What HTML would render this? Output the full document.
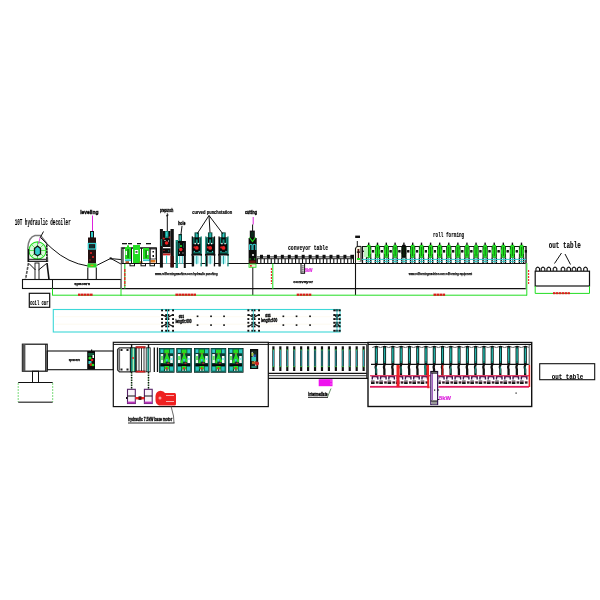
<!DOCTYPE html>
<html><head><meta charset="utf-8"><style>
html,body{margin:0;padding:0;background:#fff;}
svg{display:block;filter:blur(0.3px);}
text{font-family:"Liberation Sans",sans-serif;}
</style></head><body>
<svg width="600" height="600" viewBox="0 0 600 600">
<rect width="600" height="600" fill="#fff"/>
<text x="14.7" y="224.8" font-size="8.3" fill="#000" textLength="56" lengthAdjust="spacingAndGlyphs" font-weight="bold" stroke="#000" stroke-width="0.1" style="font-family:Liberation Mono,monospace">10T hydraulic decoiler</text>
<path d="M27.8,262 L27.8,248 Q28.5,237 35,235.4 L40.5,235.4 L46.5,243 L47.6,262" stroke="#7a7a7a" stroke-width="1.5" fill="none" />
<circle cx="37.5" cy="250.5" r="8.6" fill="#d8f8d8" stroke="#22dd22" stroke-width="1.1"/>
<line x1="29" y1="250.5" x2="46" y2="250.5" stroke="#22dd22" stroke-width="0.7" />
<line x1="37.5" y1="242" x2="37.5" y2="259" stroke="#22dd22" stroke-width="0.7" />
<line x1="31.5" y1="244.5" x2="43.5" y2="256.5" stroke="#22dd22" stroke-width="0.7" />
<line x1="43.5" y1="244.5" x2="31.5" y2="256.5" stroke="#22dd22" stroke-width="0.7" />
<path d="M37.5,246 L40.5,248.5 L40.5,254 L37.5,255.8 L34.5,254 L34.5,248.5 Z" stroke="#111" stroke-width="1.3" fill="#33cccc" />
<line x1="28.6" y1="249" x2="28.6" y2="262" stroke="#111" stroke-width="1.2" />
<line x1="46.8" y1="245" x2="46.8" y2="262" stroke="#111" stroke-width="1.2" stroke-dasharray="2,1"/>
<line x1="28" y1="259.3" x2="47.5" y2="259.3" stroke="#111" stroke-width="1" />
<line x1="28" y1="261.3" x2="47.5" y2="261.3" stroke="#111" stroke-width="1.2" />
<line x1="43.5" y1="231.5" x2="40" y2="238" stroke="#111" stroke-width="1" />
<line x1="40" y1="238" x2="38.5" y2="244" stroke="#dd22dd" stroke-width="0.8" />
<line x1="28.5" y1="263" x2="25.5" y2="279.5" stroke="#555" stroke-width="1.6" stroke-dasharray="3,1"/>
<line x1="47" y1="263" x2="49" y2="279.5" stroke="#111" stroke-width="1.6" />
<rect x="35" y="263" width="4" height="16.5" fill="none" stroke="#111" stroke-width="0.9" />
<line x1="29" y1="263.5" x2="35.5" y2="270" stroke="#111" stroke-width="1" />
<line x1="46.5" y1="263.5" x2="38.5" y2="270" stroke="#111" stroke-width="1" />
<path d="M41,238 Q47,244 52,248.5 Q68,263 88,266" stroke="#111" stroke-width="1" fill="none" />
<path d="M96.5,265.5 L110.7,258.4 L121.5,264.3" stroke="#111" stroke-width="1" fill="none" />
<line x1="110.7" y1="258.6" x2="121.5" y2="259.6" stroke="#111" stroke-width="1" />
<rect x="109.7" y="257.4" width="2" height="2" fill="#111" />
<rect x="22.5" y="279.5" width="98.5" height="9" fill="none" stroke="#111" stroke-width="1.1" />
<line x1="52.5" y1="279.5" x2="52.5" y2="288.5" stroke="#111" stroke-width="1" />
<text x="74.2" y="285.3" font-size="3.6" fill="#000" textLength="15.8" lengthAdjust="spacingAndGlyphs" font-weight="bold" stroke="#000" stroke-width="0.25" >spacers</text>
<rect x="29.3" y="293.3" width="20.4" height="14" fill="none" stroke="#111" stroke-width="1.2" />
<text x="30" y="305" font-size="7.8" fill="#000" textLength="18.5" lengthAdjust="spacingAndGlyphs" font-weight="bold" stroke="#000" stroke-width="0.1" style="font-family:Liberation Mono,monospace">coil car</text>
<text x="80.2" y="213.6" font-size="6" fill="#000" textLength="18.3" lengthAdjust="spacingAndGlyphs" font-weight="bold" stroke="#000" stroke-width="0.35" >leveling</text>
<line x1="92.5" y1="215.5" x2="92.5" y2="231" stroke="#dd22dd" stroke-width="1" />
<rect x="90" y="231" width="4" height="7" fill="#111" />
<rect x="91" y="232" width="2" height="5.5" fill="#33cccc" />
<rect x="88" y="237.5" width="8" height="26" fill="#241010" />
<rect x="88.3" y="243.5" width="7.4" height="5.5" fill="none" stroke="#33cccc" stroke-width="1.3" />
<rect x="90" y="245" width="4" height="3" fill="#0a3030" />
<circle cx="91" cy="253" r="1" fill="#ee2222" stroke="none" stroke-width="1"/>
<circle cx="93" cy="257" r="1" fill="#ee2222" stroke="none" stroke-width="1"/>
<circle cx="90" cy="260" r="0.8" fill="#aa3333" stroke="none" stroke-width="1"/>
<rect x="87.5" y="263.5" width="9" height="4" fill="#22dd22" />
<rect x="90.5" y="264.7" width="3" height="1.5" fill="#e09020" />
<line x1="87.8" y1="267.5" x2="87.8" y2="279.5" stroke="#111" stroke-width="1.1" />
<line x1="96.3" y1="267.5" x2="96.3" y2="279.5" stroke="#111" stroke-width="1.1" />
<line x1="121" y1="263.5" x2="526" y2="263.5" stroke="#111" stroke-width="1.2" />
<line x1="121" y1="288.6" x2="526" y2="288.6" stroke="#111" stroke-width="1.2" />
<line x1="121.3" y1="247" x2="121.3" y2="289" stroke="#777" stroke-width="1.1" />
<line x1="252.8" y1="263" x2="252.8" y2="295" stroke="#111" stroke-width="1" />
<line x1="355.5" y1="248" x2="355.5" y2="295" stroke="#111" stroke-width="1.1" />
<line x1="357.3" y1="241" x2="357.3" y2="247" stroke="#111" stroke-width="1" />
<line x1="526" y1="246" x2="526" y2="289" stroke="#888" stroke-width="1.1" />
<line x1="526" y1="246" x2="526" y2="263" stroke="#111" stroke-width="1.2" />
<line x1="52.5" y1="295.2" x2="527" y2="295.2" stroke="#22dd22" stroke-width="1" />
<line x1="52.5" y1="288.5" x2="52.5" y2="295.5" stroke="#22dd22" stroke-width="1" />
<line x1="121" y1="288.5" x2="121" y2="296" stroke="#22dd22" stroke-width="1" />
<line x1="272.8" y1="263.5" x2="272.8" y2="289" stroke="#22dd22" stroke-width="1" />
<line x1="526.8" y1="263" x2="526.8" y2="295.5" stroke="#22dd22" stroke-width="1" />
<line x1="124.8" y1="263.5" x2="124.8" y2="288.5" stroke="#3c3" stroke-width="1.2" />
<line x1="124.8" y1="269" x2="124.8" y2="286" stroke="#ee2222" stroke-width="1.3" stroke-dasharray="3,1"/>
<line x1="271.4" y1="268" x2="271.4" y2="284" stroke="#ee2222" stroke-width="1.1" stroke-dasharray="2,1"/>
<line x1="528.6" y1="270" x2="528.6" y2="284" stroke="#ee2222" stroke-width="1.1" stroke-dasharray="2,1"/>
<rect x="78" y="293.6" width="2.6" height="2.2" fill="#dd1a1a" />
<rect x="81" y="293.6" width="2.6" height="2.2" fill="#dd1a1a" />
<rect x="84" y="293.6" width="2.6" height="2.2" fill="#dd1a1a" />
<rect x="87" y="293.6" width="2.6" height="2.2" fill="#dd1a1a" />
<rect x="90" y="293.6" width="2.6" height="2.2" fill="#dd1a1a" />
<rect x="175.4" y="293.6" width="2.6" height="2.2" fill="#dd1a1a" />
<rect x="178.4" y="293.6" width="2.6" height="2.2" fill="#dd1a1a" />
<rect x="181.4" y="293.6" width="2.6" height="2.2" fill="#dd1a1a" />
<rect x="184.4" y="293.6" width="2.6" height="2.2" fill="#dd1a1a" />
<rect x="187.4" y="293.6" width="2.6" height="2.2" fill="#dd1a1a" />
<rect x="190.4" y="293.6" width="2.6" height="2.2" fill="#dd1a1a" />
<rect x="193.4" y="293.6" width="2.6" height="2.2" fill="#dd1a1a" />
<rect x="296.7" y="293.6" width="2.6" height="2.2" fill="#dd1a1a" />
<rect x="299.7" y="293.6" width="2.6" height="2.2" fill="#dd1a1a" />
<rect x="302.7" y="293.6" width="2.6" height="2.2" fill="#dd1a1a" />
<rect x="305.7" y="293.6" width="2.6" height="2.2" fill="#dd1a1a" />
<rect x="308.7" y="293.6" width="2.6" height="2.2" fill="#dd1a1a" />
<rect x="433.5" y="293.6" width="2.6" height="2.2" fill="#dd1a1a" />
<rect x="436.5" y="293.6" width="2.6" height="2.2" fill="#dd1a1a" />
<rect x="439.5" y="293.6" width="2.6" height="2.2" fill="#dd1a1a" />
<rect x="442.5" y="293.6" width="2.6" height="2.2" fill="#dd1a1a" />
<line x1="122" y1="248" x2="156.5" y2="248" stroke="#111" stroke-width="1" />
<rect x="122" y="248" width="34.5" height="15.5" fill="none" stroke="#111" stroke-width="1" />
<line x1="123.2" y1="248" x2="123.2" y2="263" stroke="#111" stroke-width="0.8" />
<rect x="125" y="247" width="6" height="12" fill="#22dd22" />
<rect x="127" y="245.3" width="2" height="2" fill="#22dd22" />
<rect x="127.6" y="249" width="0.9" height="9" fill="#0a3a0a" />
<rect x="125.6" y="251" width="1.4" height="4" fill="#fff" />
<rect x="125" y="259.3" width="7" height="1.8" fill="#33cccc" />
<rect x="133" y="245" width="7" height="18" fill="#22dd22" />
<rect x="134.8" y="250" width="3.4" height="4" fill="#fff" />
<rect x="135.5" y="251.3" width="2" height="1.3" fill="#111" />
<rect x="143" y="248" width="6" height="11" fill="#22dd22" />
<rect x="145.6" y="250" width="0.9" height="8" fill="#0a3a0a" />
<rect x="147" y="251" width="1.4" height="4" fill="#fff" />
<rect x="143" y="259.3" width="7" height="1.8" fill="#33cccc" />
<rect x="150" y="249" width="6" height="10" fill="#fff" stroke="#111" stroke-width="0.8" />
<rect x="152.5" y="251" width="1.5" height="1.5" fill="#111" />
<rect x="152.5" y="255" width="1.5" height="2" fill="#111" />
<rect x="150.5" y="260" width="5" height="2.5" fill="#dd7722" />
<rect x="125.5" y="261.2" width="3.5" height="2" fill="#aa5522" />
<rect x="139.5" y="261.2" width="3" height="2" fill="#aa7722" />
<rect x="122" y="243" width="5" height="1.3" fill="#111" />
<rect x="128" y="243" width="4" height="1.3" fill="#111" />
<rect x="137" y="243" width="4" height="1.3" fill="#111" />
<rect x="146" y="243" width="5" height="1.3" fill="#111" />
<rect x="130" y="263.5" width="4.5" height="2.3" fill="#fff" stroke="#111" stroke-width="1" />
<rect x="141" y="263.5" width="4.5" height="2.3" fill="#fff" stroke="#111" stroke-width="1" />
<rect x="150" y="263.5" width="4.5" height="2.3" fill="#fff" stroke="#111" stroke-width="1" />
<line x1="131.5" y1="248" x2="131.5" y2="263" stroke="#111" stroke-width="1" />
<line x1="141.5" y1="248" x2="141.5" y2="263" stroke="#111" stroke-width="1" />
<line x1="150" y1="248" x2="150" y2="263" stroke="#111" stroke-width="1" />
<rect x="159.9" y="229" width="3" height="38.6" fill="#111" />
<rect x="170.5" y="229" width="3.3" height="38.6" fill="#111" />
<rect x="160.8" y="239" width="1.2" height="7" fill="#118877" />
<rect x="162.9" y="231" width="7.6" height="22.5" fill="#0d0d0d" />
<rect x="165" y="231" width="3.5" height="7" fill="#118877" />
<rect x="165.8" y="232" width="1.8" height="4.5" fill="#33cccc" />
<circle cx="166.6" cy="243" r="1.8" fill="#ee2222" stroke="none" stroke-width="1"/>
<circle cx="163.8" cy="238.5" r="1.1" fill="#cc2222" stroke="none" stroke-width="1"/>
<circle cx="169.5" cy="237.5" r="1" fill="#aa2020" stroke="none" stroke-width="1"/>
<rect x="164.5" y="240" width="1" height="1" fill="#fff" />
<rect x="168" y="240.5" width="1" height="1" fill="#fff" />
<rect x="163" y="247" width="7.5" height="1.3" fill="#fff" />
<rect x="163.5" y="250" width="1" height="1" fill="#cc2020" />
<rect x="168" y="250.5" width="1.2" height="1" fill="#2a9" />
<rect x="162.9" y="253.6" width="7.6" height="2" fill="#cc2020" />
<rect x="163" y="255.6" width="7.5" height="8" fill="#fff" />
<rect x="166" y="255.6" width="1.1" height="8" fill="#33cccc" />
<rect x="170.5" y="256" width="3.3" height="11" fill="#3a0a0a" />
<line x1="167.3" y1="213.3" x2="167.3" y2="231" stroke="#111" stroke-width="1" />
<line x1="166" y1="216" x2="168.5" y2="215" stroke="#111" stroke-width="1" />
<rect x="175.6" y="240" width="2.4" height="28" fill="#118877" />
<rect x="176.4" y="242" width="0.8" height="20" fill="#0a4a40" />
<rect x="178.5" y="234" width="3.5" height="8" fill="#0a2a25" />
<rect x="179.2" y="235" width="2" height="6" fill="#118877" />
<rect x="179.8" y="236" width="0.8" height="4" fill="#33cccc" />
<rect x="178" y="241" width="7.6" height="15" fill="#080808" />
<rect x="178.6" y="243" width="1" height="6" fill="#118877" />
<rect x="183.4" y="243" width="1" height="5" fill="#118877" />
<circle cx="181" cy="246" r="1.1" fill="#22dd22" stroke="none" stroke-width="1"/>
<circle cx="180.8" cy="249.5" r="1.7" fill="#ee2222" stroke="none" stroke-width="1"/>
<rect x="179" y="252.5" width="1" height="1" fill="#fff" />
<rect x="182.5" y="252.5" width="1" height="1" fill="#fff" />
<rect x="178" y="256" width="6" height="7.5" fill="#fff" />
<rect x="179.2" y="256" width="1" height="8" fill="#33cccc" />
<rect x="181.8" y="256" width="1" height="8" fill="#33cccc" />
<rect x="183.8" y="241" width="2" height="27" fill="#111" />
<line x1="182" y1="226" x2="181" y2="234" stroke="#111" stroke-width="1" />
<rect x="194.55" y="232.4" width="4.4" height="7" fill="#0a3a30" />
<rect x="195.35" y="232.9" width="2.8" height="6" fill="#118877" />
<rect x="196.25" y="233.4" width="1" height="5" fill="#33cccc" />
<rect x="192.3" y="237.4" width="8.9" height="17" fill="#080808" />
<rect x="191.7" y="236.4" width="1.3" height="30" fill="#111" />
<rect x="200.5" y="236.4" width="1.3" height="30" fill="#118877" />
<rect x="193.3" y="237.9" width="1.2" height="6" fill="#118877" />
<rect x="199" y="237.9" width="1.2" height="6" fill="#118877" />
<rect x="195.75" y="239.4" width="2" height="4" fill="#118877" />
<rect x="194.5" y="242.9" width="1.4" height="1.4" fill="#fff" />
<rect x="197.6" y="242.9" width="1.4" height="1.4" fill="#fff" />
<circle cx="196.75" cy="247.9" r="1.9" fill="#ee2222" stroke="none" stroke-width="1"/>
<circle cx="194.55" cy="247.4" r="1.1" fill="#cc2020" stroke="none" stroke-width="1"/>
<rect x="193.7" y="250.9" width="1.2" height="1.2" fill="#33cccc" />
<rect x="198.6" y="250.9" width="1.2" height="1.2" fill="#33cccc" />
<rect x="193.3" y="252.2" width="6.9" height="1.2" fill="#118877" />
<rect x="191.5" y="253.9" width="10.5" height="1.8" fill="#111" />
<rect x="193" y="255.7" width="7.5" height="8.3" fill="#fff" />
<rect x="194.3" y="256.2" width="4.9" height="7.5" fill="#b8f2f2" />
<rect x="196.25" y="255.7" width="1" height="8.5" fill="#2aa" />
<rect x="192.5" y="255.4" width="1.6" height="11" fill="#111" />
<rect x="207.95" y="232.4" width="4.4" height="7" fill="#0a3a30" />
<rect x="208.75" y="232.9" width="2.8" height="6" fill="#118877" />
<rect x="209.65" y="233.4" width="1" height="5" fill="#33cccc" />
<rect x="205.8" y="237.4" width="8.7" height="17" fill="#080808" />
<rect x="205.2" y="236.4" width="1.3" height="30" fill="#118877" />
<rect x="213.8" y="236.4" width="1.3" height="30" fill="#111" />
<rect x="206.8" y="237.9" width="1.2" height="6" fill="#118877" />
<rect x="212.3" y="237.9" width="1.2" height="6" fill="#118877" />
<rect x="209.15" y="239.4" width="2" height="4" fill="#118877" />
<rect x="208" y="242.9" width="1.4" height="1.4" fill="#fff" />
<rect x="210.9" y="242.9" width="1.4" height="1.4" fill="#fff" />
<circle cx="210.15" cy="247.9" r="1.9" fill="#ee2222" stroke="none" stroke-width="1"/>
<circle cx="207.95" cy="247.4" r="1.1" fill="#cc2020" stroke="none" stroke-width="1"/>
<rect x="207.2" y="250.9" width="1.2" height="1.2" fill="#33cccc" />
<rect x="211.9" y="250.9" width="1.2" height="1.2" fill="#33cccc" />
<rect x="206.8" y="252.2" width="6.7" height="1.2" fill="#118877" />
<rect x="205" y="253.9" width="10.3" height="1.8" fill="#111" />
<rect x="206.5" y="255.7" width="7.3" height="8.3" fill="#fff" />
<rect x="207.8" y="256.2" width="4.7" height="7.5" fill="#b8f2f2" />
<rect x="209.65" y="255.7" width="1" height="8.5" fill="#2aa" />
<rect x="206" y="255.4" width="1.6" height="11" fill="#111" />
<rect x="221.3" y="232.4" width="4.4" height="7" fill="#0a3a30" />
<rect x="222.1" y="232.9" width="2.8" height="6" fill="#118877" />
<rect x="223" y="233.4" width="1" height="5" fill="#33cccc" />
<rect x="219" y="237.4" width="9" height="17" fill="#080808" />
<rect x="218.4" y="236.4" width="1.3" height="30" fill="#111" />
<rect x="227.3" y="236.4" width="1.3" height="30" fill="#118877" />
<rect x="220" y="237.9" width="1.2" height="6" fill="#118877" />
<rect x="225.8" y="237.9" width="1.2" height="6" fill="#118877" />
<rect x="222.5" y="239.4" width="2" height="4" fill="#118877" />
<rect x="221.2" y="242.9" width="1.4" height="1.4" fill="#fff" />
<rect x="224.4" y="242.9" width="1.4" height="1.4" fill="#fff" />
<circle cx="223.5" cy="247.9" r="1.9" fill="#ee2222" stroke="none" stroke-width="1"/>
<circle cx="221.3" cy="247.4" r="1.1" fill="#cc2020" stroke="none" stroke-width="1"/>
<rect x="220.4" y="250.9" width="1.2" height="1.2" fill="#33cccc" />
<rect x="225.4" y="250.9" width="1.2" height="1.2" fill="#33cccc" />
<rect x="220" y="252.2" width="7" height="1.2" fill="#118877" />
<rect x="218.2" y="253.9" width="10.6" height="1.8" fill="#111" />
<rect x="219.7" y="255.7" width="7.6" height="8.3" fill="#fff" />
<rect x="221" y="256.2" width="5" height="7.5" fill="#b8f2f2" />
<rect x="223" y="255.7" width="1" height="8.5" fill="#2aa" />
<rect x="219.2" y="255.4" width="1.6" height="11" fill="#111" />
<text x="160" y="211.7" font-size="5" fill="#000" textLength="13.3" lengthAdjust="spacingAndGlyphs" font-weight="bold" stroke="#000" stroke-width="0.35" >prepunch</text>
<text x="178.3" y="224.7" font-size="4.8" fill="#000" textLength="7" lengthAdjust="spacingAndGlyphs" font-weight="bold" stroke="#000" stroke-width="0.35" >hole</text>
<text x="192.2" y="214" font-size="5.4" fill="#000" textLength="40" lengthAdjust="spacingAndGlyphs" font-weight="bold" stroke="#000" stroke-width="0.2" >curved punchstation</text>
<line x1="209" y1="215.5" x2="197" y2="234" stroke="#111" stroke-width="1" />
<line x1="209" y1="215.5" x2="210" y2="232.5" stroke="#111" stroke-width="1" />
<line x1="209" y1="215.5" x2="223" y2="234" stroke="#111" stroke-width="1" />
<text x="155" y="275" font-size="4.4" fill="#000" textLength="62.5" lengthAdjust="spacingAndGlyphs" font-weight="bold" stroke="#000" stroke-width="0.25" >www.rollformingmachine.com hydraulic punching</text>
<text x="245" y="214" font-size="5.2" fill="#000" textLength="12" lengthAdjust="spacingAndGlyphs" font-weight="bold" stroke="#000" stroke-width="0.35" >cutting</text>
<line x1="253.2" y1="217" x2="253.2" y2="224.5" stroke="#dd22dd" stroke-width="1" />
<line x1="252.6" y1="224.5" x2="252.6" y2="231" stroke="#111" stroke-width="1" />
<rect x="249.8" y="230.6" width="5" height="8" fill="#111" />
<rect x="250.8" y="232" width="3" height="5" fill="#0a2a1a" />
<rect x="248.6" y="238" width="8.1" height="25.5" fill="#0a0a0a" />
<path d="M249.5,237.5 L252.5,241.5 L255.5,237.5" stroke="#22dd22" stroke-width="1.2" fill="none" />
<path d="M249.6,250 L249.6,245 Q251,243.5 252,245 L252,250" stroke="#33cccc" stroke-width="1.1" fill="none" />
<path d="M253,250 L253,245 Q254.5,243.5 255.8,245 L255.8,250" stroke="#33cccc" stroke-width="1.1" fill="none" />
<rect x="252.2" y="254" width="1.6" height="2" fill="#eee" />
<rect x="249.5" y="258.5" width="1.2" height="1" fill="#22dd22" />
<rect x="254" y="258.5" width="1.2" height="1" fill="#22dd22" />
<rect x="249.5" y="260.5" width="6" height="3" fill="#6a1010" />
<rect x="249" y="264" width="7" height="3.3" fill="#f6e6d6" stroke="#22dd22" stroke-width="0.8" />
<rect x="250" y="265" width="1.8" height="1.6" fill="#ee2222" />
<text x="288" y="249.7" font-size="7" fill="#000" textLength="40" lengthAdjust="spacingAndGlyphs" font-weight="bold" stroke="#000" stroke-width="0.1" style="font-family:Liberation Mono,monospace">conveyor table</text>
<line x1="257" y1="256.9" x2="353.5" y2="256.9" stroke="#111" stroke-width="0.9" />
<line x1="257" y1="258.7" x2="353.5" y2="258.7" stroke="#111" stroke-width="0.9" />
<rect x="260" y="254.8" width="3" height="3.6" fill="#111" />
<rect x="266.95" y="254.8" width="3" height="3.6" fill="#111" />
<rect x="273.9" y="254.8" width="3" height="3.6" fill="#111" />
<rect x="280.85" y="254.8" width="3" height="3.6" fill="#111" />
<rect x="287.8" y="254.8" width="3" height="3.6" fill="#111" />
<rect x="294.75" y="254.8" width="3" height="3.6" fill="#111" />
<rect x="301.7" y="254.8" width="3" height="3.6" fill="#111" />
<rect x="308.65" y="254.8" width="3" height="3.6" fill="#111" />
<rect x="315.6" y="254.8" width="3" height="3.6" fill="#111" />
<rect x="322.55" y="254.8" width="3" height="3.6" fill="#111" />
<rect x="329.5" y="254.8" width="3" height="3.6" fill="#111" />
<rect x="336.45" y="254.8" width="3" height="3.6" fill="#111" />
<rect x="343.4" y="254.8" width="3" height="3.6" fill="#111" />
<rect x="350.35" y="254.8" width="3" height="3.6" fill="#111" />
<rect x="256.8" y="258.7" width="1.1" height="4.6" fill="#111" />
<rect x="260.28" y="258.7" width="1.1" height="4.6" fill="#111" />
<rect x="263.75" y="258.7" width="1.1" height="4.6" fill="#111" />
<rect x="267.23" y="258.7" width="1.1" height="4.6" fill="#111" />
<rect x="270.7" y="258.7" width="1.1" height="4.6" fill="#111" />
<rect x="274.18" y="258.7" width="1.1" height="4.6" fill="#111" />
<rect x="277.65" y="258.7" width="1.1" height="4.6" fill="#111" />
<rect x="281.12" y="258.7" width="1.1" height="4.6" fill="#111" />
<rect x="284.6" y="258.7" width="1.1" height="4.6" fill="#111" />
<rect x="288.07" y="258.7" width="1.1" height="4.6" fill="#111" />
<rect x="291.55" y="258.7" width="1.1" height="4.6" fill="#111" />
<rect x="295.03" y="258.7" width="1.1" height="4.6" fill="#111" />
<rect x="298.5" y="258.7" width="1.1" height="4.6" fill="#111" />
<rect x="301.98" y="258.7" width="1.1" height="4.6" fill="#111" />
<rect x="305.45" y="258.7" width="1.1" height="4.6" fill="#111" />
<rect x="308.93" y="258.7" width="1.1" height="4.6" fill="#111" />
<rect x="312.4" y="258.7" width="1.1" height="4.6" fill="#111" />
<rect x="315.88" y="258.7" width="1.1" height="4.6" fill="#111" />
<rect x="319.35" y="258.7" width="1.1" height="4.6" fill="#111" />
<rect x="322.83" y="258.7" width="1.1" height="4.6" fill="#111" />
<rect x="326.3" y="258.7" width="1.1" height="4.6" fill="#111" />
<rect x="329.78" y="258.7" width="1.1" height="4.6" fill="#111" />
<rect x="333.25" y="258.7" width="1.1" height="4.6" fill="#111" />
<rect x="336.73" y="258.7" width="1.1" height="4.6" fill="#111" />
<rect x="340.2" y="258.7" width="1.1" height="4.6" fill="#111" />
<rect x="343.68" y="258.7" width="1.1" height="4.6" fill="#111" />
<rect x="347.15" y="258.7" width="1.1" height="4.6" fill="#111" />
<rect x="350.62" y="258.7" width="1.1" height="4.6" fill="#111" />
<rect x="353" y="254.8" width="1" height="8.5" fill="#111" />
<text x="293.3" y="282.8" font-size="4" fill="#000" textLength="19.7" lengthAdjust="spacingAndGlyphs" font-weight="bold" stroke="#000" stroke-width="0.25" >conveyor</text>
<rect x="301" y="263.5" width="3.6" height="9.8" fill="#fff" stroke="#111" stroke-width="1" />
<rect x="301.8" y="265.5" width="2" height="0.8" fill="#111" />
<rect x="301.8" y="267.5" width="2" height="0.8" fill="#111" />
<rect x="301.8" y="269.5" width="2" height="0.8" fill="#111" />
<rect x="301.8" y="271.5" width="2" height="0.8" fill="#111" />
<text x="305" y="272.2" font-size="5.5" fill="#dd22dd" textLength="7.5" lengthAdjust="spacingAndGlyphs" font-weight="bold" stroke="#dd22dd" stroke-width="0.2" >5kW</text>
<rect x="355.2" y="235.6" width="4.8" height="2.4" fill="#111" />
<text x="433" y="237" font-size="7.4" fill="#000" textLength="31.2" lengthAdjust="spacingAndGlyphs" font-weight="bold" stroke="#000" stroke-width="0.1" style="font-family:Liberation Mono,monospace">roll forming</text>
<line x1="362" y1="246.5" x2="526" y2="246.5" stroke="#111" stroke-width="1.2" />
<path d="M355.5,263 L355.5,249 Q355.5,246.4 358,246.4 L361,246.4 L361,261.5 Z" stroke="#111" stroke-width="1" fill="#f8f4e0" />
<rect x="357.5" y="249" width="1.8" height="4" fill="#551111" />
<rect x="356.8" y="251.5" width="3.2" height="1.2" fill="#111" />
<rect x="357.8" y="253" width="1.2" height="5" fill="#551111" />
<rect x="357" y="258" width="3" height="2" fill="#22dd22" />
<rect x="361.8" y="246" width="1.3" height="17" fill="#111" />
<rect x="356" y="261.5" width="5" height="1.5" fill="#fff" />
<rect x="366.1" y="246.5" width="5.2" height="11" fill="#0a2a0a" />
<rect x="366.9" y="244.8" width="3.6" height="13" fill="#22dd22" />
<rect x="366.4" y="249.5" width="4.6" height="4.5" fill="#22dd22" />
<rect x="368.4" y="247" width="0.6" height="9" fill="#0a4a0a" />
<rect x="368" y="242.6" width="1.4" height="2.5" fill="#111" />
<rect x="372" y="250" width="2.2" height="2.6" fill="#111" />
<rect x="363.1" y="250.6" width="1.8" height="1.4" fill="#111" />
<rect x="365.9" y="257.5" width="1.4" height="6" fill="#111" />
<rect x="370.1" y="257.5" width="1.4" height="6" fill="#111" />
<rect x="368.3" y="257.5" width="0.8" height="6" fill="#118877" />
<rect x="365.7" y="261" width="6" height="0.9" fill="#33bbbb" />
<rect x="374.9" y="246.5" width="5.2" height="11" fill="#0a2a0a" />
<rect x="375.7" y="244.8" width="3.6" height="13" fill="#22dd22" />
<rect x="375.2" y="249.5" width="4.6" height="4.5" fill="#22dd22" />
<rect x="377.2" y="247" width="0.6" height="9" fill="#0a4a0a" />
<rect x="376.8" y="242.6" width="1.4" height="2.5" fill="#111" />
<rect x="380.8" y="250" width="2.2" height="2.6" fill="#111" />
<rect x="371.9" y="250.6" width="1.8" height="1.4" fill="#111" />
<rect x="374.7" y="257.5" width="1.4" height="6" fill="#111" />
<rect x="378.9" y="257.5" width="1.4" height="6" fill="#111" />
<rect x="377.1" y="257.5" width="0.8" height="6" fill="#118877" />
<rect x="374.5" y="261" width="6" height="0.9" fill="#33bbbb" />
<rect x="383.7" y="246.5" width="5.2" height="11" fill="#0a2a0a" />
<rect x="384.5" y="244.8" width="3.6" height="13" fill="#22dd22" />
<rect x="384" y="249.5" width="4.6" height="4.5" fill="#22dd22" />
<rect x="386" y="247" width="0.6" height="9" fill="#0a4a0a" />
<rect x="385.6" y="242.6" width="1.4" height="2.5" fill="#111" />
<rect x="389.6" y="250" width="2.2" height="2.6" fill="#111" />
<rect x="380.7" y="250.6" width="1.8" height="1.4" fill="#111" />
<rect x="383.5" y="257.5" width="1.4" height="6" fill="#111" />
<rect x="387.7" y="257.5" width="1.4" height="6" fill="#111" />
<rect x="385.9" y="257.5" width="0.8" height="6" fill="#118877" />
<rect x="383.3" y="261" width="6" height="0.9" fill="#33bbbb" />
<rect x="392.5" y="246.5" width="5.2" height="11" fill="#0a2a0a" />
<rect x="393.3" y="244.8" width="3.6" height="13" fill="#22dd22" />
<rect x="392.8" y="249.5" width="4.6" height="4.5" fill="#22dd22" />
<rect x="394.8" y="247" width="0.6" height="9" fill="#0a4a0a" />
<rect x="394.4" y="242.6" width="1.4" height="2.5" fill="#111" />
<rect x="398.4" y="250" width="2.2" height="2.6" fill="#111" />
<rect x="389.5" y="250.6" width="1.8" height="1.4" fill="#111" />
<rect x="392.3" y="257.5" width="1.4" height="6" fill="#111" />
<rect x="396.5" y="257.5" width="1.4" height="6" fill="#111" />
<rect x="394.7" y="257.5" width="0.8" height="6" fill="#118877" />
<rect x="392.1" y="261" width="6" height="0.9" fill="#33bbbb" />
<rect x="401.3" y="246.5" width="5.2" height="11" fill="#0a2a0a" />
<rect x="402.1" y="244.8" width="3.6" height="13" fill="#0a0a0a" />
<rect x="401.6" y="249.5" width="4.6" height="4.5" fill="#0a0a0a" />
<rect x="403.6" y="247" width="0.6" height="9" fill="#0a4a0a" />
<rect x="403.2" y="242.6" width="1.4" height="2.5" fill="#111" />
<rect x="407.2" y="250" width="2.2" height="2.6" fill="#111" />
<rect x="398.3" y="250.6" width="1.8" height="1.4" fill="#111" />
<rect x="401.1" y="257.5" width="1.4" height="6" fill="#111" />
<rect x="405.3" y="257.5" width="1.4" height="6" fill="#111" />
<rect x="403.5" y="257.5" width="0.8" height="6" fill="#118877" />
<rect x="400.9" y="261" width="6" height="0.9" fill="#33bbbb" />
<rect x="410.1" y="246.5" width="5.2" height="11" fill="#0a2a0a" />
<rect x="410.9" y="244.8" width="3.6" height="13" fill="#22dd22" />
<rect x="410.4" y="249.5" width="4.6" height="4.5" fill="#22dd22" />
<rect x="412.4" y="247" width="0.6" height="9" fill="#0a4a0a" />
<rect x="412" y="242.6" width="1.4" height="2.5" fill="#111" />
<rect x="416" y="250" width="2.2" height="2.6" fill="#111" />
<rect x="407.1" y="250.6" width="1.8" height="1.4" fill="#111" />
<rect x="409.9" y="257.5" width="1.4" height="6" fill="#111" />
<rect x="414.1" y="257.5" width="1.4" height="6" fill="#111" />
<rect x="412.3" y="257.5" width="0.8" height="6" fill="#118877" />
<rect x="409.7" y="261" width="6" height="0.9" fill="#33bbbb" />
<rect x="418.9" y="246.5" width="5.2" height="11" fill="#0a2a0a" />
<rect x="419.7" y="244.8" width="3.6" height="13" fill="#22dd22" />
<rect x="419.2" y="249.5" width="4.6" height="4.5" fill="#22dd22" />
<rect x="421.2" y="247" width="0.6" height="9" fill="#0a4a0a" />
<rect x="420.8" y="242.6" width="1.4" height="2.5" fill="#111" />
<rect x="424.8" y="250" width="2.2" height="2.6" fill="#111" />
<rect x="415.9" y="250.6" width="1.8" height="1.4" fill="#111" />
<rect x="418.7" y="257.5" width="1.4" height="6" fill="#111" />
<rect x="422.9" y="257.5" width="1.4" height="6" fill="#111" />
<rect x="421.1" y="257.5" width="0.8" height="6" fill="#118877" />
<rect x="418.5" y="261" width="6" height="0.9" fill="#33bbbb" />
<rect x="427.99" y="246.5" width="5.2" height="11" fill="#0a2a0a" />
<rect x="428.79" y="244.8" width="3.6" height="13" fill="#22dd22" />
<rect x="428.29" y="249.5" width="4.6" height="4.5" fill="#22dd22" />
<rect x="430.29" y="247" width="0.6" height="9" fill="#0a4a0a" />
<rect x="429.89" y="242.6" width="1.4" height="2.5" fill="#111" />
<rect x="433.89" y="250" width="2.2" height="2.6" fill="#111" />
<rect x="424.99" y="250.6" width="1.8" height="1.4" fill="#111" />
<rect x="427.79" y="257.5" width="1.4" height="6" fill="#111" />
<rect x="431.99" y="257.5" width="1.4" height="6" fill="#111" />
<rect x="430.19" y="257.5" width="0.8" height="6" fill="#118877" />
<rect x="427.59" y="261" width="6" height="0.9" fill="#33bbbb" />
<rect x="437.08" y="246.5" width="5.2" height="11" fill="#0a2a0a" />
<rect x="437.88" y="244.8" width="3.6" height="13" fill="#22dd22" />
<rect x="437.38" y="249.5" width="4.6" height="4.5" fill="#22dd22" />
<rect x="439.38" y="247" width="0.6" height="9" fill="#0a4a0a" />
<rect x="438.98" y="242.6" width="1.4" height="2.5" fill="#111" />
<rect x="442.98" y="250" width="2.2" height="2.6" fill="#111" />
<rect x="434.08" y="250.6" width="1.8" height="1.4" fill="#111" />
<rect x="436.88" y="257.5" width="1.4" height="6" fill="#111" />
<rect x="441.08" y="257.5" width="1.4" height="6" fill="#111" />
<rect x="439.28" y="257.5" width="0.8" height="6" fill="#118877" />
<rect x="436.68" y="261" width="6" height="0.9" fill="#33bbbb" />
<rect x="446.17" y="246.5" width="5.2" height="11" fill="#0a2a0a" />
<rect x="446.97" y="244.8" width="3.6" height="13" fill="#22dd22" />
<rect x="446.47" y="249.5" width="4.6" height="4.5" fill="#22dd22" />
<rect x="448.47" y="247" width="0.6" height="9" fill="#0a4a0a" />
<rect x="448.07" y="242.6" width="1.4" height="2.5" fill="#111" />
<rect x="452.07" y="250" width="2.2" height="2.6" fill="#111" />
<rect x="443.17" y="250.6" width="1.8" height="1.4" fill="#111" />
<rect x="445.97" y="257.5" width="1.4" height="6" fill="#111" />
<rect x="450.17" y="257.5" width="1.4" height="6" fill="#111" />
<rect x="448.37" y="257.5" width="0.8" height="6" fill="#118877" />
<rect x="445.77" y="261" width="6" height="0.9" fill="#33bbbb" />
<rect x="455.26" y="246.5" width="5.2" height="11" fill="#0a2a0a" />
<rect x="456.06" y="244.8" width="3.6" height="13" fill="#22dd22" />
<rect x="455.56" y="249.5" width="4.6" height="4.5" fill="#22dd22" />
<rect x="457.56" y="247" width="0.6" height="9" fill="#0a4a0a" />
<rect x="457.16" y="242.6" width="1.4" height="2.5" fill="#111" />
<rect x="461.16" y="250" width="2.2" height="2.6" fill="#111" />
<rect x="452.26" y="250.6" width="1.8" height="1.4" fill="#111" />
<rect x="455.06" y="257.5" width="1.4" height="6" fill="#111" />
<rect x="459.26" y="257.5" width="1.4" height="6" fill="#111" />
<rect x="457.46" y="257.5" width="0.8" height="6" fill="#118877" />
<rect x="454.86" y="261" width="6" height="0.9" fill="#33bbbb" />
<rect x="464.35" y="246.5" width="5.2" height="11" fill="#0a2a0a" />
<rect x="465.15" y="244.8" width="3.6" height="13" fill="#22dd22" />
<rect x="464.65" y="249.5" width="4.6" height="4.5" fill="#22dd22" />
<rect x="466.65" y="247" width="0.6" height="9" fill="#0a4a0a" />
<rect x="466.25" y="242.6" width="1.4" height="2.5" fill="#111" />
<rect x="470.25" y="250" width="2.2" height="2.6" fill="#111" />
<rect x="461.35" y="250.6" width="1.8" height="1.4" fill="#111" />
<rect x="464.15" y="257.5" width="1.4" height="6" fill="#111" />
<rect x="468.35" y="257.5" width="1.4" height="6" fill="#111" />
<rect x="466.55" y="257.5" width="0.8" height="6" fill="#118877" />
<rect x="463.95" y="261" width="6" height="0.9" fill="#33bbbb" />
<rect x="473.44" y="246.5" width="5.2" height="11" fill="#0a2a0a" />
<rect x="474.24" y="244.8" width="3.6" height="13" fill="#22dd22" />
<rect x="473.74" y="249.5" width="4.6" height="4.5" fill="#22dd22" />
<rect x="475.74" y="247" width="0.6" height="9" fill="#0a4a0a" />
<rect x="475.34" y="242.6" width="1.4" height="2.5" fill="#111" />
<rect x="479.34" y="250" width="2.2" height="2.6" fill="#111" />
<rect x="470.44" y="250.6" width="1.8" height="1.4" fill="#111" />
<rect x="473.24" y="257.5" width="1.4" height="6" fill="#111" />
<rect x="477.44" y="257.5" width="1.4" height="6" fill="#111" />
<rect x="475.64" y="257.5" width="0.8" height="6" fill="#118877" />
<rect x="473.04" y="261" width="6" height="0.9" fill="#33bbbb" />
<rect x="482.53" y="246.5" width="5.2" height="11" fill="#0a2a0a" />
<rect x="483.33" y="244.8" width="3.6" height="13" fill="#22dd22" />
<rect x="482.83" y="249.5" width="4.6" height="4.5" fill="#22dd22" />
<rect x="484.83" y="247" width="0.6" height="9" fill="#0a4a0a" />
<rect x="484.43" y="242.6" width="1.4" height="2.5" fill="#111" />
<rect x="488.43" y="250" width="2.2" height="2.6" fill="#111" />
<rect x="479.53" y="250.6" width="1.8" height="1.4" fill="#111" />
<rect x="482.33" y="257.5" width="1.4" height="6" fill="#111" />
<rect x="486.53" y="257.5" width="1.4" height="6" fill="#111" />
<rect x="484.73" y="257.5" width="0.8" height="6" fill="#118877" />
<rect x="482.13" y="261" width="6" height="0.9" fill="#33bbbb" />
<rect x="491.62" y="246.5" width="5.2" height="11" fill="#0a2a0a" />
<rect x="492.42" y="244.8" width="3.6" height="13" fill="#22dd22" />
<rect x="491.92" y="249.5" width="4.6" height="4.5" fill="#22dd22" />
<rect x="493.92" y="247" width="0.6" height="9" fill="#0a4a0a" />
<rect x="493.52" y="242.6" width="1.4" height="2.5" fill="#111" />
<rect x="497.52" y="250" width="2.2" height="2.6" fill="#111" />
<rect x="488.62" y="250.6" width="1.8" height="1.4" fill="#111" />
<rect x="491.42" y="257.5" width="1.4" height="6" fill="#111" />
<rect x="495.62" y="257.5" width="1.4" height="6" fill="#111" />
<rect x="493.82" y="257.5" width="0.8" height="6" fill="#118877" />
<rect x="491.22" y="261" width="6" height="0.9" fill="#33bbbb" />
<rect x="500.71" y="246.5" width="5.2" height="11" fill="#0a2a0a" />
<rect x="501.51" y="244.8" width="3.6" height="13" fill="#22dd22" />
<rect x="501.01" y="249.5" width="4.6" height="4.5" fill="#22dd22" />
<rect x="503.01" y="247" width="0.6" height="9" fill="#0a4a0a" />
<rect x="502.61" y="242.6" width="1.4" height="2.5" fill="#111" />
<rect x="506.61" y="250" width="2.2" height="2.6" fill="#111" />
<rect x="497.71" y="250.6" width="1.8" height="1.4" fill="#111" />
<rect x="500.51" y="257.5" width="1.4" height="6" fill="#111" />
<rect x="504.71" y="257.5" width="1.4" height="6" fill="#111" />
<rect x="502.91" y="257.5" width="0.8" height="6" fill="#118877" />
<rect x="500.31" y="261" width="6" height="0.9" fill="#33bbbb" />
<rect x="509.8" y="246.5" width="5.2" height="11" fill="#0a2a0a" />
<rect x="510.6" y="244.8" width="3.6" height="13" fill="#22dd22" />
<rect x="510.1" y="249.5" width="4.6" height="4.5" fill="#22dd22" />
<rect x="512.1" y="247" width="0.6" height="9" fill="#0a4a0a" />
<rect x="511.7" y="242.6" width="1.4" height="2.5" fill="#111" />
<rect x="515.7" y="250" width="2.2" height="2.6" fill="#111" />
<rect x="506.8" y="250.6" width="1.8" height="1.4" fill="#111" />
<rect x="509.6" y="257.5" width="1.4" height="6" fill="#111" />
<rect x="513.8" y="257.5" width="1.4" height="6" fill="#111" />
<rect x="512" y="257.5" width="0.8" height="6" fill="#118877" />
<rect x="509.4" y="261" width="6" height="0.9" fill="#33bbbb" />
<rect x="518.89" y="246.5" width="5.2" height="11" fill="#0a2a0a" />
<rect x="519.69" y="244.8" width="3.6" height="13" fill="#22dd22" />
<rect x="519.19" y="249.5" width="4.6" height="4.5" fill="#22dd22" />
<rect x="521.19" y="247" width="0.6" height="9" fill="#0a4a0a" />
<rect x="520.79" y="242.6" width="1.4" height="2.5" fill="#111" />
<rect x="524.79" y="250" width="2.2" height="2.6" fill="#111" />
<rect x="515.89" y="250.6" width="1.8" height="1.4" fill="#111" />
<rect x="518.69" y="257.5" width="1.4" height="6" fill="#111" />
<rect x="522.89" y="257.5" width="1.4" height="6" fill="#111" />
<rect x="521.09" y="257.5" width="0.8" height="6" fill="#118877" />
<rect x="518.49" y="261" width="6" height="0.9" fill="#33bbbb" />
<line x1="362" y1="259.4" x2="526" y2="259.4" stroke="#33cccc" stroke-width="1" />
<rect x="364" y="247" width="4" height="10" fill="#bdf5bd" />
<text x="408.7" y="275" font-size="4.4" fill="#000" textLength="63.5" lengthAdjust="spacingAndGlyphs" font-weight="bold" stroke="#000" stroke-width="0.25" >www.rollformingmachine.com rollforming equipment</text>
<text x="548.75" y="247.7" font-size="8.2" fill="#000" textLength="32" lengthAdjust="spacingAndGlyphs" font-weight="bold" stroke="#000" stroke-width="0.1" style="font-family:Liberation Mono,monospace">out table</text>
<line x1="561.5" y1="253" x2="554.5" y2="263.5" stroke="#111" stroke-width="1" />
<line x1="565" y1="254" x2="570.5" y2="264.5" stroke="#111" stroke-width="1" />
<rect x="535.2" y="271.2" width="54.3" height="14.8" fill="none" stroke="#111" stroke-width="1.2" />
<path d="M535.95,271 L535.95,268.5 Q537.75,265.8 539.55,268.5 L539.55,271" stroke="#111" stroke-width="1.1" fill="none" />
<path d="M541.2,271 L541.2,268.5 Q543,265.8 544.8,268.5 L544.8,271" stroke="#111" stroke-width="1.1" fill="none" />
<path d="M546.95,271 L546.95,268.5 Q548.75,265.8 550.55,268.5 L550.55,271" stroke="#111" stroke-width="1.1" fill="none" />
<path d="M553.2,271 L553.2,268.5 Q555,265.8 556.8,268.5 L556.8,271" stroke="#111" stroke-width="1.1" fill="none" />
<path d="M561.2,271 L561.2,268.5 Q563,265.8 564.8,268.5 L564.8,271" stroke="#111" stroke-width="1.1" fill="none" />
<path d="M566.95,271 L566.95,268.5 Q568.75,265.8 570.55,268.5 L570.55,271" stroke="#111" stroke-width="1.1" fill="none" />
<path d="M572.2,271 L572.2,268.5 Q574,265.8 575.8,268.5 L575.8,271" stroke="#111" stroke-width="1.1" fill="none" />
<path d="M577.45,271 L577.45,268.5 Q579.25,265.8 581.05,268.5 L581.05,271" stroke="#111" stroke-width="1.1" fill="none" />
<path d="M583.7,271 L583.7,268.5 Q585.5,265.8 587.3,268.5 L587.3,271" stroke="#111" stroke-width="1.1" fill="none" />
<path d="M535.2,286 L535.2,293.4 L589.5,293.4 L589.5,286" stroke="#22dd22" stroke-width="1" fill="none" />
<rect x="553" y="292.2" width="2.4" height="2" fill="#dd1a1a" />
<rect x="555.9" y="292.2" width="2.4" height="2" fill="#dd1a1a" />
<rect x="558.8" y="292.2" width="2.4" height="2" fill="#dd1a1a" />
<rect x="561.7" y="292.2" width="2.4" height="2" fill="#dd1a1a" />
<rect x="564.6" y="292.2" width="2.4" height="2" fill="#dd1a1a" />
<rect x="567.5" y="292.2" width="2.4" height="2" fill="#dd1a1a" />
<rect x="53.3" y="309.5" width="286.7" height="22.5" fill="none" stroke="#3cd8d8" stroke-width="1.1" />
<line x1="55" y1="316.7" x2="339" y2="316.7" stroke="#fdf8ec" stroke-width="0.8" />
<line x1="55" y1="324.2" x2="339" y2="324.2" stroke="#fdf8ec" stroke-width="0.8" />
<rect x="161.1" y="309.4" width="1.9" height="1.9" fill="#111" />
<rect x="165.17" y="309.4" width="1.9" height="1.9" fill="#111" />
<rect x="167.48" y="309.4" width="1.9" height="1.9" fill="#111" />
<rect x="172.1" y="309.4" width="1.9" height="1.9" fill="#111" />
<rect x="161.1" y="314.1" width="1.9" height="1.9" fill="#111" />
<rect x="165.17" y="314.1" width="1.9" height="1.9" fill="#111" />
<rect x="167.48" y="314.1" width="1.9" height="1.9" fill="#111" />
<rect x="172.1" y="314.1" width="1.9" height="1.9" fill="#111" />
<rect x="161.1" y="318.1" width="1.9" height="1.9" fill="#111" />
<rect x="165.17" y="318.1" width="1.9" height="1.9" fill="#111" />
<rect x="167.48" y="318.1" width="1.9" height="1.9" fill="#111" />
<rect x="172.1" y="318.1" width="1.9" height="1.9" fill="#111" />
<rect x="161.1" y="321.8" width="1.9" height="1.9" fill="#111" />
<rect x="165.17" y="321.8" width="1.9" height="1.9" fill="#111" />
<rect x="167.48" y="321.8" width="1.9" height="1.9" fill="#111" />
<rect x="172.1" y="321.8" width="1.9" height="1.9" fill="#111" />
<rect x="161.1" y="325.4" width="1.9" height="1.9" fill="#111" />
<rect x="165.17" y="325.4" width="1.9" height="1.9" fill="#111" />
<rect x="167.48" y="325.4" width="1.9" height="1.9" fill="#111" />
<rect x="172.1" y="325.4" width="1.9" height="1.9" fill="#111" />
<rect x="161.1" y="329.8" width="1.9" height="1.9" fill="#111" />
<rect x="165.17" y="329.8" width="1.9" height="1.9" fill="#111" />
<rect x="167.48" y="329.8" width="1.9" height="1.9" fill="#111" />
<rect x="172.1" y="329.8" width="1.9" height="1.9" fill="#111" />
<path d="M162,314.5 L167.5,317.5 L173,314.5" stroke="#111" stroke-width="1.2" fill="none" />
<path d="M162,326.5 L167.5,323.5 L173,326.5" stroke="#111" stroke-width="1.2" fill="none" />
<line x1="167.5" y1="309.5" x2="167.5" y2="332" stroke="#33cccc" stroke-width="0.9" />
<rect x="247.4" y="309.4" width="1.9" height="1.9" fill="#111" />
<rect x="251.36" y="309.4" width="1.9" height="1.9" fill="#111" />
<rect x="253.61" y="309.4" width="1.9" height="1.9" fill="#111" />
<rect x="258.1" y="309.4" width="1.9" height="1.9" fill="#111" />
<rect x="247.4" y="314.1" width="1.9" height="1.9" fill="#111" />
<rect x="251.36" y="314.1" width="1.9" height="1.9" fill="#111" />
<rect x="253.61" y="314.1" width="1.9" height="1.9" fill="#111" />
<rect x="258.1" y="314.1" width="1.9" height="1.9" fill="#111" />
<rect x="247.4" y="318.1" width="1.9" height="1.9" fill="#111" />
<rect x="251.36" y="318.1" width="1.9" height="1.9" fill="#111" />
<rect x="253.61" y="318.1" width="1.9" height="1.9" fill="#111" />
<rect x="258.1" y="318.1" width="1.9" height="1.9" fill="#111" />
<rect x="247.4" y="321.8" width="1.9" height="1.9" fill="#111" />
<rect x="251.36" y="321.8" width="1.9" height="1.9" fill="#111" />
<rect x="253.61" y="321.8" width="1.9" height="1.9" fill="#111" />
<rect x="258.1" y="321.8" width="1.9" height="1.9" fill="#111" />
<rect x="247.4" y="325.4" width="1.9" height="1.9" fill="#111" />
<rect x="251.36" y="325.4" width="1.9" height="1.9" fill="#111" />
<rect x="253.61" y="325.4" width="1.9" height="1.9" fill="#111" />
<rect x="258.1" y="325.4" width="1.9" height="1.9" fill="#111" />
<rect x="247.4" y="329.8" width="1.9" height="1.9" fill="#111" />
<rect x="251.36" y="329.8" width="1.9" height="1.9" fill="#111" />
<rect x="253.61" y="329.8" width="1.9" height="1.9" fill="#111" />
<rect x="258.1" y="329.8" width="1.9" height="1.9" fill="#111" />
<path d="M248.3,314.5 L253.65,317.5 L259,314.5" stroke="#111" stroke-width="1.2" fill="none" />
<path d="M248.3,326.5 L253.65,323.5 L259,326.5" stroke="#111" stroke-width="1.2" fill="none" />
<line x1="253.3" y1="309.5" x2="253.3" y2="332" stroke="#33cccc" stroke-width="0.9" />
<rect x="333.3" y="309.4" width="1.9" height="1.9" fill="#111" />
<rect x="335.34" y="309.4" width="1.9" height="1.9" fill="#111" />
<rect x="336.49" y="309.4" width="1.9" height="1.9" fill="#111" />
<rect x="338.8" y="309.4" width="1.9" height="1.9" fill="#111" />
<rect x="333.3" y="314.1" width="1.9" height="1.9" fill="#111" />
<rect x="335.34" y="314.1" width="1.9" height="1.9" fill="#111" />
<rect x="336.49" y="314.1" width="1.9" height="1.9" fill="#111" />
<rect x="338.8" y="314.1" width="1.9" height="1.9" fill="#111" />
<rect x="333.3" y="318.1" width="1.9" height="1.9" fill="#111" />
<rect x="335.34" y="318.1" width="1.9" height="1.9" fill="#111" />
<rect x="336.49" y="318.1" width="1.9" height="1.9" fill="#111" />
<rect x="338.8" y="318.1" width="1.9" height="1.9" fill="#111" />
<rect x="333.3" y="321.8" width="1.9" height="1.9" fill="#111" />
<rect x="335.34" y="321.8" width="1.9" height="1.9" fill="#111" />
<rect x="336.49" y="321.8" width="1.9" height="1.9" fill="#111" />
<rect x="338.8" y="321.8" width="1.9" height="1.9" fill="#111" />
<rect x="333.3" y="325.4" width="1.9" height="1.9" fill="#111" />
<rect x="335.34" y="325.4" width="1.9" height="1.9" fill="#111" />
<rect x="336.49" y="325.4" width="1.9" height="1.9" fill="#111" />
<rect x="338.8" y="325.4" width="1.9" height="1.9" fill="#111" />
<rect x="333.3" y="329.8" width="1.9" height="1.9" fill="#111" />
<rect x="335.34" y="329.8" width="1.9" height="1.9" fill="#111" />
<rect x="336.49" y="329.8" width="1.9" height="1.9" fill="#111" />
<rect x="338.8" y="329.8" width="1.9" height="1.9" fill="#111" />
<path d="M334.2,314.5 L336.95,317.5 L339.7,314.5" stroke="#111" stroke-width="1.2" fill="none" />
<path d="M334.2,326.5 L336.95,323.5 L339.7,326.5" stroke="#111" stroke-width="1.2" fill="none" />
<line x1="337" y1="309.5" x2="337" y2="332" stroke="#33cccc" stroke-width="0.9" />
<text x="178.7" y="317.6" font-size="4.2" fill="#000" textLength="5.3" lengthAdjust="spacingAndGlyphs" font-weight="bold" stroke="#000" stroke-width="0.3" >&#216;25</text>
<text x="175.4" y="322.9" font-size="4.6" fill="#000" textLength="16.3" lengthAdjust="spacingAndGlyphs" font-weight="bold" stroke="#000" stroke-width="0.3" >length:600</text>
<text x="265.2" y="317.4" font-size="4.2" fill="#000" textLength="5.5" lengthAdjust="spacingAndGlyphs" font-weight="bold" stroke="#000" stroke-width="0.3" >&#216;25</text>
<text x="261" y="322.2" font-size="4.6" fill="#000" textLength="16.3" lengthAdjust="spacingAndGlyphs" font-weight="bold" stroke="#000" stroke-width="0.3" >length:600</text>
<rect x="196.7" y="315.5" width="1.7" height="1.6" fill="#111" />
<rect x="196.7" y="324.3" width="1.7" height="1.6" fill="#111" />
<rect x="210.2" y="315.5" width="1.7" height="1.6" fill="#111" />
<rect x="210.2" y="324.3" width="1.7" height="1.6" fill="#111" />
<rect x="223.2" y="315.5" width="1.7" height="1.6" fill="#111" />
<rect x="223.2" y="324.3" width="1.7" height="1.6" fill="#111" />
<rect x="282.5" y="315.5" width="1.7" height="1.6" fill="#111" />
<rect x="282.5" y="324.3" width="1.7" height="1.6" fill="#111" />
<rect x="295.7" y="315.5" width="1.7" height="1.6" fill="#111" />
<rect x="295.7" y="324.3" width="1.7" height="1.6" fill="#111" />
<rect x="309.2" y="315.5" width="1.7" height="1.6" fill="#111" />
<rect x="309.2" y="324.3" width="1.7" height="1.6" fill="#111" />
<rect x="22.4" y="344.2" width="24.8" height="27" fill="none" stroke="#111" stroke-width="1.2" />
<rect x="22.4" y="344.2" width="3" height="27" fill="#555" />
<line x1="45.7" y1="344.2" x2="45.7" y2="371.2" stroke="#111" stroke-width="1" />
<rect x="47.2" y="351" width="66.1" height="18.7" fill="none" stroke="#111" stroke-width="1.1" />
<text x="68.7" y="361.3" font-size="3.6" fill="#000" textLength="11.3" lengthAdjust="spacingAndGlyphs" font-weight="bold" stroke="#000" stroke-width="0.25" >spacers</text>
<rect x="32.5" y="371.2" width="6" height="11.3" fill="none" stroke="#111" stroke-width="1" />
<line x1="18.2" y1="382.5" x2="52.7" y2="382.5" stroke="#111" stroke-width="1.1" />
<line x1="18.2" y1="402.3" x2="52.7" y2="402.3" stroke="#555" stroke-width="1.5" />
<line x1="18.2" y1="383" x2="18.2" y2="402" stroke="#4c4" stroke-width="0.7" stroke-dasharray="2,1"/>
<line x1="52.7" y1="383" x2="52.7" y2="402" stroke="#4c4" stroke-width="0.7" stroke-dasharray="2,1"/>
<rect x="87.2" y="351" width="7.8" height="18.5" fill="#0a0a0a" />
<rect x="88.2" y="353" width="5.8" height="3" fill="#125a3a" />
<circle cx="90" cy="358" r="1.6" fill="#22dd22" stroke="none" stroke-width="1"/>
<circle cx="92" cy="360" r="1.3" fill="#ee2222" stroke="none" stroke-width="1"/>
<rect x="88.5" y="361" width="3" height="3" fill="#33cccc" />
<circle cx="91" cy="364.5" r="1.5" fill="#cc3311" stroke="none" stroke-width="1"/>
<circle cx="93" cy="365" r="1.3" fill="#22dd22" stroke="none" stroke-width="1"/>
<rect x="92.5" y="355" width="1.5" height="3" fill="#fff" />
<rect x="91" y="349.5" width="1.2" height="2" fill="#111" />
<rect x="113.3" y="342.3" width="155" height="64.3" fill="none" stroke="#111" stroke-width="1.2" />
<line x1="113.3" y1="344.4" x2="268.3" y2="344.4" stroke="#111" stroke-width="1" />
<path d="M119.5,347.8 L117.6,349.5 L117.6,370 L119.5,371.8 L130.5,371.8 L130.5,347.8 Z" stroke="#333" stroke-width="1.3" fill="none" />
<line x1="119.3" y1="349" x2="119.3" y2="370.5" stroke="#666" stroke-width="1.6" />
<rect x="120.5" y="349" width="2" height="2" fill="#222" />
<rect x="126.5" y="349" width="2" height="2" fill="#222" />
<rect x="120.5" y="368.5" width="2" height="2" fill="#222" />
<rect x="126.5" y="368.5" width="2" height="2" fill="#222" />
<rect x="130.4" y="347.8" width="5.2" height="24" fill="#b0f0b0" />
<rect x="131" y="347.8" width="1.6" height="24" fill="#118877" />
<rect x="134" y="347.8" width="1.3" height="24" fill="#118877" />
<rect x="130.4" y="347.8" width="5.2" height="24" fill="none" stroke="#111" stroke-width="0.9" />
<circle cx="133" cy="358" r="1" fill="#ee2222" stroke="none" stroke-width="1"/>
<rect x="135.6" y="346.2" width="10" height="2.2" fill="#992020" />
<rect x="135.6" y="370.5" width="10" height="2.2" fill="#992020" />
<rect x="137.5" y="346.8" width="6" height="1" fill="#ee2222" />
<rect x="137.5" y="371" width="6" height="1" fill="#ee2222" />
<line x1="136.6" y1="348" x2="136.6" y2="371" stroke="#222" stroke-width="0.9" />
<line x1="139" y1="348" x2="139" y2="371" stroke="#222" stroke-width="0.9" />
<line x1="141.5" y1="348" x2="141.5" y2="371" stroke="#222" stroke-width="0.9" />
<line x1="144" y1="348" x2="144" y2="371" stroke="#222" stroke-width="0.9" />
<rect x="146.2" y="347.8" width="4" height="24" fill="#eaf8f8" />
<rect x="147.4" y="347.8" width="1.6" height="24" fill="#118877" />
<rect x="146.2" y="347.8" width="4" height="24" fill="none" stroke="#111" stroke-width="0.8" />
<line x1="154.3" y1="347.5" x2="154.3" y2="372" stroke="#111" stroke-width="1.3" />
<line x1="157.5" y1="347.5" x2="157.5" y2="372" stroke="#111" stroke-width="1.3" />
<line x1="131.6" y1="344" x2="131.6" y2="348" stroke="#111" stroke-width="1.4" />
<line x1="148.5" y1="344" x2="148.5" y2="348" stroke="#111" stroke-width="1.4" />
<line x1="131.6" y1="372" x2="131.6" y2="389" stroke="#111" stroke-width="1.5" stroke-dasharray="1.5,1"/>
<line x1="131.6" y1="373" x2="131.6" y2="389" stroke="#3a3" stroke-width="0.6" stroke-dasharray="1,1.5"/>
<line x1="148.5" y1="372" x2="148.5" y2="389" stroke="#111" stroke-width="1.5" stroke-dasharray="1.5,1"/>
<line x1="148.5" y1="373" x2="148.5" y2="389" stroke="#3a3" stroke-width="0.6" stroke-dasharray="1,1.5"/>
<rect x="127.5" y="389.3" width="7.8" height="14.2" fill="#f8f4fa" stroke="#552266" stroke-width="1.1" />
<line x1="127.5" y1="396" x2="135.3" y2="396" stroke="#111" stroke-width="1" />
<rect x="127.5" y="401.6" width="7.8" height="1.9" fill="#bb33bb" />
<rect x="126" y="397" width="1.5" height="2" fill="#111" />
<rect x="144.4" y="389.3" width="7.8" height="14.2" fill="#f8f4fa" stroke="#552266" stroke-width="1.1" />
<line x1="144.4" y1="396" x2="152.2" y2="396" stroke="#111" stroke-width="1" />
<rect x="144.4" y="401.6" width="7.8" height="1.9" fill="#bb33bb" />
<rect x="142.9" y="397" width="1.5" height="2" fill="#111" />
<rect x="135.3" y="397" width="9.1" height="2.4" fill="#ee2222" />
<rect x="138.5" y="396.3" width="3" height="3.6" fill="#551111" />
<path d="M155.5,396 Q156,391 160.5,390.8 Q164,391 165,393 L175,393 Q176,393.5 176,395 L176,404 Q176,405.5 174.5,405.5 L159,405.5 Q155.5,404 155.5,400 Z" stroke="none" stroke-width="1" fill="#ee2020" />
<rect x="166" y="395" width="8" height="1" fill="#f6b0b0" />
<rect x="166" y="401" width="8" height="1" fill="#f6b0b0" />
<circle cx="160" cy="398" r="1.5" fill="#f6a0a0" stroke="none" stroke-width="1"/>
<path d="M171,406 L173.5,416 L174,423" stroke="#444" stroke-width="0.8" fill="none" />
<text x="128.2" y="420.8" font-size="5.2" fill="#000" textLength="44" lengthAdjust="spacingAndGlyphs" font-weight="bold" stroke="#000" stroke-width="0.3" >hydraulic 7.5kW base motor</text>
<line x1="128" y1="423" x2="174.5" y2="423" stroke="#111" stroke-width="0.9" />
<rect x="159" y="348" width="15.5" height="24.7" fill="#050a08" />
<rect x="160" y="349" width="13.5" height="22.7" fill="#0e3a32" />
<rect x="160.5" y="349.3" width="3" height="3.6" fill="#33cccc" />
<rect x="170" y="349.3" width="3" height="4" fill="#2ac8c0" />
<rect x="164.3" y="349.5" width="5" height="3.8" fill="#22dd22" />
<rect x="165.8" y="352.8" width="2" height="2.6" fill="#b06a20" />
<rect x="160.6" y="354" width="2.6" height="9" fill="#e8f8f0" />
<rect x="160.8" y="356" width="2.2" height="4" fill="#5de25d" />
<path d="M164.2,363 L167,355.5 L169.5,362" stroke="#22dd22" stroke-width="2.2" fill="none" />
<rect x="165.8" y="359" width="2" height="2.6" fill="#30c8c8" />
<rect x="170.2" y="356" width="2.6" height="7" fill="#f4fbfb" />
<rect x="170.5" y="358" width="2" height="2" fill="#8ee" />
<circle cx="168.2" cy="363.5" r="1.1" fill="#aa2a20" stroke="none" stroke-width="1"/>
<rect x="160" y="364.3" width="13.5" height="1.6" fill="#020202" />
<rect x="160.5" y="366.6" width="3.4" height="4.2" fill="#2ac8c0" />
<rect x="169.6" y="366.6" width="3.4" height="4.2" fill="#2ac8c0" />
<rect x="164.5" y="366" width="4.5" height="3.2" fill="#22dd22" />
<rect x="165" y="369.4" width="1.4" height="1.4" fill="#fff" />
<rect x="167.5" y="369.4" width="1.4" height="1.4" fill="#dfd" />
<circle cx="166.7" cy="368.2" r="1" fill="#ee2222" stroke="none" stroke-width="1"/>
<rect x="159.9" y="348.9" width="13.7" height="22.9" fill="none" stroke="#1a9a8a" stroke-width="0.7" />
<rect x="176.3" y="348" width="15.5" height="24.7" fill="#050a08" />
<rect x="177.3" y="349" width="13.5" height="22.7" fill="#0e3a32" />
<rect x="177.8" y="349.3" width="3" height="3.6" fill="#33cccc" />
<rect x="187.3" y="349.3" width="3" height="4" fill="#2ac8c0" />
<rect x="181.6" y="349.5" width="5" height="3.8" fill="#22dd22" />
<rect x="183.1" y="352.8" width="2" height="2.6" fill="#b06a20" />
<rect x="177.9" y="354" width="2.6" height="9" fill="#e8f8f0" />
<rect x="178.1" y="356" width="2.2" height="4" fill="#5de25d" />
<path d="M181.5,363 L184.3,355.5 L186.8,362" stroke="#22dd22" stroke-width="2.2" fill="none" />
<rect x="183.1" y="359" width="2" height="2.6" fill="#30c8c8" />
<rect x="187.5" y="356" width="2.6" height="7" fill="#f4fbfb" />
<rect x="187.8" y="358" width="2" height="2" fill="#8ee" />
<circle cx="185.5" cy="363.5" r="1.1" fill="#aa2a20" stroke="none" stroke-width="1"/>
<rect x="177.3" y="364.3" width="13.5" height="1.6" fill="#020202" />
<rect x="177.8" y="366.6" width="3.4" height="4.2" fill="#2ac8c0" />
<rect x="186.9" y="366.6" width="3.4" height="4.2" fill="#2ac8c0" />
<rect x="181.8" y="366" width="4.5" height="3.2" fill="#22dd22" />
<rect x="182.3" y="369.4" width="1.4" height="1.4" fill="#fff" />
<rect x="184.8" y="369.4" width="1.4" height="1.4" fill="#dfd" />
<circle cx="184" cy="368.2" r="1" fill="#ee2222" stroke="none" stroke-width="1"/>
<rect x="177.2" y="348.9" width="13.7" height="22.9" fill="none" stroke="#1a9a8a" stroke-width="0.7" />
<rect x="194" y="348" width="15.5" height="24.7" fill="#050a08" />
<rect x="195" y="349" width="13.5" height="22.7" fill="#0e3a32" />
<rect x="195.5" y="349.3" width="3" height="3.6" fill="#33cccc" />
<rect x="205" y="349.3" width="3" height="4" fill="#2ac8c0" />
<rect x="199.3" y="349.5" width="5" height="3.8" fill="#22dd22" />
<rect x="200.8" y="352.8" width="2" height="2.6" fill="#b06a20" />
<rect x="195.6" y="354" width="2.6" height="9" fill="#e8f8f0" />
<rect x="195.8" y="356" width="2.2" height="4" fill="#5de25d" />
<path d="M199.2,363 L202,355.5 L204.5,362" stroke="#22dd22" stroke-width="2.2" fill="none" />
<rect x="200.8" y="359" width="2" height="2.6" fill="#30c8c8" />
<rect x="205.2" y="356" width="2.6" height="7" fill="#f4fbfb" />
<rect x="205.5" y="358" width="2" height="2" fill="#8ee" />
<circle cx="203.2" cy="363.5" r="1.1" fill="#aa2a20" stroke="none" stroke-width="1"/>
<rect x="195" y="364.3" width="13.5" height="1.6" fill="#020202" />
<rect x="195.5" y="366.6" width="3.4" height="4.2" fill="#2ac8c0" />
<rect x="204.6" y="366.6" width="3.4" height="4.2" fill="#2ac8c0" />
<rect x="199.5" y="366" width="4.5" height="3.2" fill="#22dd22" />
<rect x="200" y="369.4" width="1.4" height="1.4" fill="#fff" />
<rect x="202.5" y="369.4" width="1.4" height="1.4" fill="#dfd" />
<circle cx="201.7" cy="368.2" r="1" fill="#ee2222" stroke="none" stroke-width="1"/>
<rect x="194.9" y="348.9" width="13.7" height="22.9" fill="none" stroke="#1a9a8a" stroke-width="0.7" />
<rect x="210.7" y="348" width="15.5" height="24.7" fill="#050a08" />
<rect x="211.7" y="349" width="13.5" height="22.7" fill="#0e3a32" />
<rect x="212.2" y="349.3" width="3" height="3.6" fill="#33cccc" />
<rect x="221.7" y="349.3" width="3" height="4" fill="#2ac8c0" />
<rect x="216" y="349.5" width="5" height="3.8" fill="#22dd22" />
<rect x="217.5" y="352.8" width="2" height="2.6" fill="#b06a20" />
<rect x="212.3" y="354" width="2.6" height="9" fill="#e8f8f0" />
<rect x="212.5" y="356" width="2.2" height="4" fill="#5de25d" />
<path d="M215.9,363 L218.7,355.5 L221.2,362" stroke="#22dd22" stroke-width="2.2" fill="none" />
<rect x="217.5" y="359" width="2" height="2.6" fill="#30c8c8" />
<rect x="221.9" y="356" width="2.6" height="7" fill="#f4fbfb" />
<rect x="222.2" y="358" width="2" height="2" fill="#8ee" />
<circle cx="219.9" cy="363.5" r="1.1" fill="#aa2a20" stroke="none" stroke-width="1"/>
<rect x="211.7" y="364.3" width="13.5" height="1.6" fill="#020202" />
<rect x="212.2" y="366.6" width="3.4" height="4.2" fill="#2ac8c0" />
<rect x="221.3" y="366.6" width="3.4" height="4.2" fill="#2ac8c0" />
<rect x="216.2" y="366" width="4.5" height="3.2" fill="#22dd22" />
<rect x="216.7" y="369.4" width="1.4" height="1.4" fill="#fff" />
<rect x="219.2" y="369.4" width="1.4" height="1.4" fill="#dfd" />
<circle cx="218.4" cy="368.2" r="1" fill="#ee2222" stroke="none" stroke-width="1"/>
<rect x="211.6" y="348.9" width="13.7" height="22.9" fill="none" stroke="#1a9a8a" stroke-width="0.7" />
<rect x="228" y="348" width="15.5" height="24.7" fill="#050a08" />
<rect x="229" y="349" width="13.5" height="22.7" fill="#0e3a32" />
<rect x="229.5" y="349.3" width="3" height="3.6" fill="#33cccc" />
<rect x="239" y="349.3" width="3" height="4" fill="#2ac8c0" />
<rect x="233.3" y="349.5" width="5" height="3.8" fill="#22dd22" />
<rect x="234.8" y="352.8" width="2" height="2.6" fill="#b06a20" />
<rect x="229.6" y="354" width="2.6" height="9" fill="#e8f8f0" />
<rect x="229.8" y="356" width="2.2" height="4" fill="#5de25d" />
<path d="M233.2,363 L236,355.5 L238.5,362" stroke="#22dd22" stroke-width="2.2" fill="none" />
<rect x="234.8" y="359" width="2" height="2.6" fill="#30c8c8" />
<rect x="239.2" y="356" width="2.6" height="7" fill="#f4fbfb" />
<rect x="239.5" y="358" width="2" height="2" fill="#8ee" />
<circle cx="237.2" cy="363.5" r="1.1" fill="#aa2a20" stroke="none" stroke-width="1"/>
<rect x="229" y="364.3" width="13.5" height="1.6" fill="#020202" />
<rect x="229.5" y="366.6" width="3.4" height="4.2" fill="#2ac8c0" />
<rect x="238.6" y="366.6" width="3.4" height="4.2" fill="#2ac8c0" />
<rect x="233.5" y="366" width="4.5" height="3.2" fill="#22dd22" />
<rect x="234" y="369.4" width="1.4" height="1.4" fill="#fff" />
<rect x="236.5" y="369.4" width="1.4" height="1.4" fill="#dfd" />
<circle cx="235.7" cy="368.2" r="1" fill="#ee2222" stroke="none" stroke-width="1"/>
<rect x="228.9" y="348.9" width="13.7" height="22.9" fill="none" stroke="#1a9a8a" stroke-width="0.7" />
<rect x="250" y="349" width="8.2" height="20" fill="#0a0a0a" />
<rect x="251.2" y="350.5" width="5.8" height="17" fill="#1a2a22" />
<path d="M252,352 L256,366" stroke="#e8f0e8" stroke-width="1.1" fill="none" />
<rect x="251.5" y="353" width="2" height="3" fill="#aacc44" />
<rect x="251.5" y="357" width="4.5" height="4" fill="#33ccbb" />
<rect x="253.5" y="354.5" width="2.5" height="2.5" fill="#2255aa" />
<rect x="252" y="361.5" width="4" height="2.5" fill="#aa6620" />
<rect x="251.5" y="366" width="5" height="2" fill="#2a8a7a" />
<circle cx="257" cy="363.5" r="2" fill="#cc2222" stroke="none" stroke-width="1"/>
<line x1="268.3" y1="342.5" x2="368" y2="342.5" stroke="#111" stroke-width="1.2" />
<line x1="268.3" y1="344.3" x2="366.7" y2="344.3" stroke="#111" stroke-width="1" />
<line x1="268.3" y1="373.3" x2="366.7" y2="373.3" stroke="#111" stroke-width="1.2" />
<line x1="268.3" y1="375.7" x2="366.7" y2="375.7" stroke="#111" stroke-width="0.8" />
<line x1="268.3" y1="378.3" x2="368" y2="378.3" stroke="#111" stroke-width="1.2" />
<line x1="366.7" y1="344.3" x2="366.7" y2="378.3" stroke="#111" stroke-width="0.9" />
<path d="M273.4,346.3 L273.4,371" stroke="#111" stroke-width="2.2" fill="none" />
<rect x="272.95" y="350" width="0.9" height="16.5" fill="#33c6d0" />
<rect x="272.3" y="349.5" width="2.2" height="0.8" fill="#4c4" />
<rect x="272.3" y="366.3" width="2.2" height="0.8" fill="#4c4" />
<path d="M280.34,346.3 L280.34,371" stroke="#111" stroke-width="2.2" fill="none" />
<rect x="279.89" y="350" width="0.9" height="16.5" fill="#33c6d0" />
<rect x="279.24" y="349.5" width="2.2" height="0.8" fill="#4c4" />
<rect x="279.24" y="366.3" width="2.2" height="0.8" fill="#4c4" />
<path d="M287.28,346.3 L287.28,371" stroke="#111" stroke-width="2.2" fill="none" />
<rect x="286.83" y="350" width="0.9" height="16.5" fill="#33c6d0" />
<rect x="286.18" y="349.5" width="2.2" height="0.8" fill="#4c4" />
<rect x="286.18" y="366.3" width="2.2" height="0.8" fill="#4c4" />
<path d="M294.22,346.3 L294.22,371" stroke="#111" stroke-width="2.2" fill="none" />
<rect x="293.77" y="350" width="0.9" height="16.5" fill="#33c6d0" />
<rect x="293.12" y="349.5" width="2.2" height="0.8" fill="#4c4" />
<rect x="293.12" y="366.3" width="2.2" height="0.8" fill="#4c4" />
<path d="M301.16,346.3 L301.16,371" stroke="#111" stroke-width="2.2" fill="none" />
<rect x="300.71" y="350" width="0.9" height="16.5" fill="#33c6d0" />
<rect x="300.06" y="349.5" width="2.2" height="0.8" fill="#4c4" />
<rect x="300.06" y="366.3" width="2.2" height="0.8" fill="#4c4" />
<path d="M308.1,346.3 L308.1,371" stroke="#111" stroke-width="2.2" fill="none" />
<rect x="307.65" y="350" width="0.9" height="16.5" fill="#33c6d0" />
<rect x="307" y="349.5" width="2.2" height="0.8" fill="#4c4" />
<rect x="307" y="366.3" width="2.2" height="0.8" fill="#4c4" />
<path d="M315.04,346.3 L315.04,371" stroke="#111" stroke-width="2.2" fill="none" />
<rect x="314.59" y="350" width="0.9" height="16.5" fill="#33c6d0" />
<rect x="313.94" y="349.5" width="2.2" height="0.8" fill="#4c4" />
<rect x="313.94" y="366.3" width="2.2" height="0.8" fill="#4c4" />
<path d="M321.98,346.3 L321.98,371" stroke="#111" stroke-width="2.2" fill="none" />
<rect x="321.53" y="350" width="0.9" height="16.5" fill="#33c6d0" />
<rect x="320.88" y="349.5" width="2.2" height="0.8" fill="#4c4" />
<rect x="320.88" y="366.3" width="2.2" height="0.8" fill="#4c4" />
<path d="M328.92,346.3 L328.92,371" stroke="#111" stroke-width="2.2" fill="none" />
<rect x="328.47" y="350" width="0.9" height="16.5" fill="#33c6d0" />
<rect x="327.82" y="349.5" width="2.2" height="0.8" fill="#4c4" />
<rect x="327.82" y="366.3" width="2.2" height="0.8" fill="#4c4" />
<path d="M335.86,346.3 L335.86,371" stroke="#111" stroke-width="2.2" fill="none" />
<rect x="335.41" y="350" width="0.9" height="16.5" fill="#33c6d0" />
<rect x="334.76" y="349.5" width="2.2" height="0.8" fill="#4c4" />
<rect x="334.76" y="366.3" width="2.2" height="0.8" fill="#4c4" />
<path d="M342.8,346.3 L342.8,371" stroke="#111" stroke-width="2.2" fill="none" />
<rect x="342.35" y="350" width="0.9" height="16.5" fill="#33c6d0" />
<rect x="341.7" y="349.5" width="2.2" height="0.8" fill="#4c4" />
<rect x="341.7" y="366.3" width="2.2" height="0.8" fill="#4c4" />
<path d="M349.74,346.3 L349.74,371" stroke="#111" stroke-width="2.2" fill="none" />
<rect x="349.29" y="350" width="0.9" height="16.5" fill="#33c6d0" />
<rect x="348.64" y="349.5" width="2.2" height="0.8" fill="#4c4" />
<rect x="348.64" y="366.3" width="2.2" height="0.8" fill="#4c4" />
<path d="M356.68,346.3 L356.68,371" stroke="#111" stroke-width="2.2" fill="none" />
<rect x="356.23" y="350" width="0.9" height="16.5" fill="#33c6d0" />
<rect x="355.58" y="349.5" width="2.2" height="0.8" fill="#4c4" />
<rect x="355.58" y="366.3" width="2.2" height="0.8" fill="#4c4" />
<path d="M363.62,346.3 L363.62,371" stroke="#111" stroke-width="2.2" fill="none" />
<rect x="363.17" y="350" width="0.9" height="16.5" fill="#33c6d0" />
<rect x="362.52" y="349.5" width="2.2" height="0.8" fill="#4c4" />
<rect x="362.52" y="366.3" width="2.2" height="0.8" fill="#4c4" />
<rect x="318.7" y="379.2" width="13.8" height="7" fill="#ee11ee" />
<rect x="330.5" y="380.5" width="1" height="1" fill="#fbe" />
<rect x="330.5" y="383.5" width="1" height="1" fill="#fbe" />
<text x="308.3" y="395.8" font-size="5" fill="#000" textLength="19.2" lengthAdjust="spacingAndGlyphs" font-weight="bold" stroke="#000" stroke-width="0.3" >intermediate</text>
<line x1="308" y1="397.4" x2="328" y2="397.4" stroke="#111" stroke-width="0.9" />
<line x1="327.5" y1="397" x2="331" y2="388.5" stroke="#447744" stroke-width="0.8" />
<rect x="368" y="342.5" width="163.7" height="64" fill="none" stroke="#111" stroke-width="1.4" />
<line x1="368" y1="344.5" x2="531.7" y2="344.5" stroke="#111" stroke-width="1" />
<line x1="371" y1="364.3" x2="529" y2="364.3" stroke="#111" stroke-width="1.3" />
<path d="M372.3,347.5 Q376.3,344.8 380.3,347.5" stroke="#111" stroke-width="0.7" fill="none" />
<rect x="374.8" y="346" width="3" height="18.3" fill="#111" />
<rect x="375.5" y="347.5" width="1.6" height="15.5" fill="#118877" />
<rect x="376" y="349" width="0.6" height="12" fill="#33cccc" />
<path d="M376.3,364.5 Q375.1,367 376.1,369.5 L376.1,375.3" stroke="#111" stroke-width="2.3" fill="none" />
<rect x="375.6" y="366.5" width="1.2" height="7" fill="#1a8a7a" />
<path d="M380.58,347.5 Q384.58,344.8 388.58,347.5" stroke="#111" stroke-width="0.7" fill="none" />
<rect x="383.08" y="346" width="3" height="18.3" fill="#111" />
<rect x="383.78" y="347.5" width="1.6" height="15.5" fill="#118877" />
<rect x="384.28" y="349" width="0.6" height="12" fill="#33cccc" />
<path d="M384.58,364.5 Q383.38,367 384.38,369.5 L384.38,375.3" stroke="#111" stroke-width="2.3" fill="none" />
<path d="M388.86,347.5 Q392.86,344.8 396.86,347.5" stroke="#111" stroke-width="0.7" fill="none" />
<rect x="391.36" y="346" width="3" height="18.3" fill="#111" />
<rect x="392.06" y="347.5" width="1.6" height="15.5" fill="#118877" />
<rect x="392.56" y="349" width="0.6" height="12" fill="#33cccc" />
<path d="M392.86,364.5 Q391.66,367 392.66,369.5 L392.66,375.3" stroke="#111" stroke-width="2.3" fill="none" />
<path d="M397.14,347.5 Q401.14,344.8 405.14,347.5" stroke="#111" stroke-width="0.7" fill="none" />
<rect x="399.64" y="346" width="3" height="18.3" fill="#111" />
<rect x="400.34" y="347.5" width="1.6" height="15.5" fill="#118877" />
<rect x="400.84" y="349" width="0.6" height="12" fill="#33cccc" />
<path d="M401.14,364.5 Q399.94,367 400.94,369.5 L400.94,375.3" stroke="#111" stroke-width="2.3" fill="none" />
<rect x="400.44" y="366.5" width="1.2" height="7" fill="#1a8a7a" />
<path d="M405.42,347.5 Q409.42,344.8 413.42,347.5" stroke="#111" stroke-width="0.7" fill="none" />
<rect x="407.92" y="346" width="3" height="18.3" fill="#111" />
<rect x="408.62" y="347.5" width="1.6" height="15.5" fill="#118877" />
<rect x="409.12" y="349" width="0.6" height="12" fill="#33cccc" />
<path d="M409.42,364.5 Q408.22,367 409.22,369.5 L409.22,375.3" stroke="#111" stroke-width="2.3" fill="none" />
<path d="M413.7,347.5 Q417.7,344.8 421.7,347.5" stroke="#111" stroke-width="0.7" fill="none" />
<rect x="416.2" y="346" width="3" height="18.3" fill="#111" />
<rect x="416.9" y="347.5" width="1.6" height="15.5" fill="#118877" />
<rect x="417.4" y="349" width="0.6" height="12" fill="#33cccc" />
<path d="M417.7,364.5 Q416.5,367 417.5,369.5 L417.5,375.3" stroke="#111" stroke-width="2.3" fill="none" />
<path d="M421.98,347.5 Q425.98,344.8 429.98,347.5" stroke="#111" stroke-width="0.7" fill="none" />
<rect x="424.48" y="346" width="3" height="18.3" fill="#111" />
<rect x="425.18" y="347.5" width="1.6" height="15.5" fill="#118877" />
<rect x="425.68" y="349" width="0.6" height="12" fill="#33cccc" />
<path d="M425.98,364.5 Q424.78,367 425.78,369.5 L425.78,375.3" stroke="#111" stroke-width="2.3" fill="none" />
<rect x="425.28" y="366.5" width="1.2" height="7" fill="#1a8a7a" />
<path d="M430.26,347.5 Q434.26,344.8 438.26,347.5" stroke="#111" stroke-width="0.7" fill="none" />
<rect x="432.76" y="346" width="3" height="18.3" fill="#111" />
<rect x="433.46" y="347.5" width="1.6" height="15.5" fill="#118877" />
<rect x="433.96" y="349" width="0.6" height="12" fill="#33cccc" />
<path d="M434.26,364.5 Q433.06,367 434.06,369.5 L434.06,375.3" stroke="#111" stroke-width="2.3" fill="none" />
<path d="M438.54,347.5 Q442.54,344.8 446.54,347.5" stroke="#111" stroke-width="0.7" fill="none" />
<rect x="441.04" y="346" width="3" height="18.3" fill="#111" />
<rect x="441.74" y="347.5" width="1.6" height="15.5" fill="#118877" />
<rect x="442.24" y="349" width="0.6" height="12" fill="#33cccc" />
<path d="M442.54,364.5 Q441.34,367 442.34,369.5 L442.34,375.3" stroke="#111" stroke-width="2.3" fill="none" />
<path d="M446.82,347.5 Q450.82,344.8 454.82,347.5" stroke="#111" stroke-width="0.7" fill="none" />
<rect x="449.32" y="346" width="3" height="18.3" fill="#111" />
<rect x="450.02" y="347.5" width="1.6" height="15.5" fill="#118877" />
<rect x="450.52" y="349" width="0.6" height="12" fill="#33cccc" />
<path d="M450.82,364.5 Q449.62,367 450.62,369.5 L450.62,375.3" stroke="#111" stroke-width="2.3" fill="none" />
<rect x="450.12" y="366.5" width="1.2" height="7" fill="#1a8a7a" />
<path d="M455.1,347.5 Q459.1,344.8 463.1,347.5" stroke="#111" stroke-width="0.7" fill="none" />
<rect x="457.6" y="346" width="3" height="18.3" fill="#111" />
<rect x="458.3" y="347.5" width="1.6" height="15.5" fill="#118877" />
<rect x="458.8" y="349" width="0.6" height="12" fill="#33cccc" />
<path d="M459.1,364.5 Q457.9,367 458.9,369.5 L458.9,375.3" stroke="#111" stroke-width="2.3" fill="none" />
<path d="M463.38,347.5 Q467.38,344.8 471.38,347.5" stroke="#111" stroke-width="0.7" fill="none" />
<rect x="465.88" y="346" width="3" height="18.3" fill="#111" />
<rect x="466.58" y="347.5" width="1.6" height="15.5" fill="#118877" />
<rect x="467.08" y="349" width="0.6" height="12" fill="#33cccc" />
<path d="M467.38,364.5 Q466.18,367 467.18,369.5 L467.18,375.3" stroke="#111" stroke-width="2.3" fill="none" />
<path d="M471.66,347.5 Q475.66,344.8 479.66,347.5" stroke="#111" stroke-width="0.7" fill="none" />
<rect x="474.16" y="346" width="3" height="18.3" fill="#111" />
<rect x="474.86" y="347.5" width="1.6" height="15.5" fill="#118877" />
<rect x="475.36" y="349" width="0.6" height="12" fill="#33cccc" />
<path d="M475.66,364.5 Q474.46,367 475.46,369.5 L475.46,375.3" stroke="#111" stroke-width="2.3" fill="none" />
<rect x="474.96" y="366.5" width="1.2" height="7" fill="#1a8a7a" />
<path d="M479.94,347.5 Q483.94,344.8 487.94,347.5" stroke="#111" stroke-width="0.7" fill="none" />
<rect x="482.44" y="346" width="3" height="18.3" fill="#111" />
<rect x="483.14" y="347.5" width="1.6" height="15.5" fill="#118877" />
<rect x="483.64" y="349" width="0.6" height="12" fill="#33cccc" />
<path d="M483.94,364.5 Q482.74,367 483.74,369.5 L483.74,375.3" stroke="#111" stroke-width="2.3" fill="none" />
<path d="M488.22,347.5 Q492.22,344.8 496.22,347.5" stroke="#111" stroke-width="0.7" fill="none" />
<rect x="490.72" y="346" width="3" height="18.3" fill="#111" />
<rect x="491.42" y="347.5" width="1.6" height="15.5" fill="#118877" />
<rect x="491.92" y="349" width="0.6" height="12" fill="#33cccc" />
<path d="M492.22,364.5 Q491.02,367 492.02,369.5 L492.02,375.3" stroke="#111" stroke-width="2.3" fill="none" />
<path d="M496.5,347.5 Q500.5,344.8 504.5,347.5" stroke="#111" stroke-width="0.7" fill="none" />
<rect x="499" y="346" width="3" height="18.3" fill="#111" />
<rect x="499.7" y="347.5" width="1.6" height="15.5" fill="#118877" />
<rect x="500.2" y="349" width="0.6" height="12" fill="#33cccc" />
<path d="M500.5,364.5 Q499.3,367 500.3,369.5 L500.3,375.3" stroke="#111" stroke-width="2.3" fill="none" />
<rect x="499.8" y="366.5" width="1.2" height="7" fill="#1a8a7a" />
<path d="M504.78,347.5 Q508.78,344.8 512.78,347.5" stroke="#111" stroke-width="0.7" fill="none" />
<rect x="507.28" y="346" width="3" height="18.3" fill="#111" />
<rect x="507.98" y="347.5" width="1.6" height="15.5" fill="#118877" />
<rect x="508.48" y="349" width="0.6" height="12" fill="#33cccc" />
<path d="M508.78,364.5 Q507.58,367 508.58,369.5 L508.58,375.3" stroke="#111" stroke-width="2.3" fill="none" />
<path d="M513.06,347.5 Q517.06,344.8 521.06,347.5" stroke="#111" stroke-width="0.7" fill="none" />
<rect x="515.56" y="346" width="3" height="18.3" fill="#111" />
<rect x="516.26" y="347.5" width="1.6" height="15.5" fill="#118877" />
<rect x="516.76" y="349" width="0.6" height="12" fill="#33cccc" />
<path d="M517.06,364.5 Q515.86,367 516.86,369.5 L516.86,375.3" stroke="#111" stroke-width="2.3" fill="none" />
<path d="M521.34,347.5 Q525.34,344.8 529.34,347.5" stroke="#111" stroke-width="0.7" fill="none" />
<rect x="523.84" y="346" width="3" height="18.3" fill="#111" />
<rect x="524.54" y="347.5" width="1.6" height="15.5" fill="#118877" />
<rect x="525.04" y="349" width="0.6" height="12" fill="#33cccc" />
<path d="M525.34,364.5 Q524.14,367 525.14,369.5 L525.14,375.3" stroke="#111" stroke-width="2.3" fill="none" />
<rect x="524.64" y="366.5" width="1.2" height="7" fill="#1a8a7a" />
<rect x="396.5" y="365" width="3" height="10.5" fill="#ee2222" />
<rect x="426.5" y="365" width="2.5" height="10.5" fill="#ee2222" />
<rect x="441.8" y="365" width="1.5" height="10.5" fill="#bb1515" />
<rect x="424.3" y="365" width="1.8" height="10" fill="#118877" />
<rect x="370" y="376" width="159" height="10.5" fill="#fff" />
<path d="M372.3,379.5 L372.3,376.8 L377.8,376.8 L377.8,379.5" stroke="#3a1850" stroke-width="1.4" fill="none" />
<rect x="371" y="380.6" width="3.6" height="3.4" fill="#111" />
<rect x="375.9" y="381" width="2.6" height="2.6" fill="#1a0a10" />
<rect x="373.6" y="377.5" width="2.4" height="1.6" fill="#f4e8f4" />
<path d="M380.58,379.5 L380.58,376.8 L386.08,376.8 L386.08,379.5" stroke="#3a1850" stroke-width="1.4" fill="none" />
<rect x="379.28" y="380.6" width="3.6" height="3.4" fill="#111" />
<rect x="384.18" y="381" width="2.6" height="2.6" fill="#1a0a10" />
<rect x="381.88" y="377.5" width="2.4" height="1.6" fill="#f4e8f4" />
<path d="M388.86,379.5 L388.86,376.8 L394.36,376.8 L394.36,379.5" stroke="#3a1850" stroke-width="1.4" fill="none" />
<rect x="387.56" y="380.6" width="3.6" height="3.4" fill="#111" />
<rect x="392.46" y="381" width="2.6" height="2.6" fill="#1a0a10" />
<rect x="390.16" y="377.5" width="2.4" height="1.6" fill="#f4e8f4" />
<path d="M397.14,379.5 L397.14,376.8 L402.64,376.8 L402.64,379.5" stroke="#3a1850" stroke-width="1.4" fill="none" />
<rect x="395.84" y="380.6" width="3.6" height="3.4" fill="#111" />
<rect x="400.74" y="381" width="2.6" height="2.6" fill="#1a0a10" />
<rect x="398.44" y="377.5" width="2.4" height="1.6" fill="#f4e8f4" />
<path d="M405.42,379.5 L405.42,376.8 L410.92,376.8 L410.92,379.5" stroke="#3a1850" stroke-width="1.4" fill="none" />
<rect x="404.12" y="380.6" width="3.6" height="3.4" fill="#111" />
<rect x="409.02" y="381" width="2.6" height="2.6" fill="#1a0a10" />
<rect x="406.72" y="377.5" width="2.4" height="1.6" fill="#f4e8f4" />
<path d="M413.7,379.5 L413.7,376.8 L419.2,376.8 L419.2,379.5" stroke="#3a1850" stroke-width="1.4" fill="none" />
<rect x="412.4" y="380.6" width="3.6" height="3.4" fill="#111" />
<rect x="417.3" y="381" width="2.6" height="2.6" fill="#1a0a10" />
<rect x="415" y="377.5" width="2.4" height="1.6" fill="#f4e8f4" />
<path d="M421.98,379.5 L421.98,376.8 L427.48,376.8 L427.48,379.5" stroke="#3a1850" stroke-width="1.4" fill="none" />
<rect x="420.68" y="380.6" width="3.6" height="3.4" fill="#111" />
<rect x="425.58" y="381" width="2.6" height="2.6" fill="#1a0a10" />
<rect x="423.28" y="377.5" width="2.4" height="1.6" fill="#f4e8f4" />
<path d="M438.54,379.5 L438.54,376.8 L444.04,376.8 L444.04,379.5" stroke="#3a1850" stroke-width="1.4" fill="none" />
<rect x="437.24" y="380.6" width="3.6" height="3.4" fill="#111" />
<rect x="442.14" y="381" width="2.6" height="2.6" fill="#1a0a10" />
<rect x="439.84" y="377.5" width="2.4" height="1.6" fill="#f4e8f4" />
<path d="M446.82,379.5 L446.82,376.8 L452.32,376.8 L452.32,379.5" stroke="#3a1850" stroke-width="1.4" fill="none" />
<rect x="445.52" y="380.6" width="3.6" height="3.4" fill="#111" />
<rect x="450.42" y="381" width="2.6" height="2.6" fill="#1a0a10" />
<rect x="448.12" y="377.5" width="2.4" height="1.6" fill="#f4e8f4" />
<path d="M455.1,379.5 L455.1,376.8 L460.6,376.8 L460.6,379.5" stroke="#3a1850" stroke-width="1.4" fill="none" />
<rect x="453.8" y="380.6" width="3.6" height="3.4" fill="#111" />
<rect x="458.7" y="381" width="2.6" height="2.6" fill="#1a0a10" />
<rect x="456.4" y="377.5" width="2.4" height="1.6" fill="#f4e8f4" />
<path d="M463.38,379.5 L463.38,376.8 L468.88,376.8 L468.88,379.5" stroke="#3a1850" stroke-width="1.4" fill="none" />
<rect x="462.08" y="380.6" width="3.6" height="3.4" fill="#111" />
<rect x="466.98" y="381" width="2.6" height="2.6" fill="#1a0a10" />
<rect x="464.68" y="377.5" width="2.4" height="1.6" fill="#f4e8f4" />
<path d="M471.66,379.5 L471.66,376.8 L477.16,376.8 L477.16,379.5" stroke="#3a1850" stroke-width="1.4" fill="none" />
<rect x="470.36" y="380.6" width="3.6" height="3.4" fill="#111" />
<rect x="475.26" y="381" width="2.6" height="2.6" fill="#1a0a10" />
<rect x="472.96" y="377.5" width="2.4" height="1.6" fill="#f4e8f4" />
<path d="M479.94,379.5 L479.94,376.8 L485.44,376.8 L485.44,379.5" stroke="#3a1850" stroke-width="1.4" fill="none" />
<rect x="478.64" y="380.6" width="3.6" height="3.4" fill="#111" />
<rect x="483.54" y="381" width="2.6" height="2.6" fill="#1a0a10" />
<rect x="481.24" y="377.5" width="2.4" height="1.6" fill="#f4e8f4" />
<path d="M488.22,379.5 L488.22,376.8 L493.72,376.8 L493.72,379.5" stroke="#3a1850" stroke-width="1.4" fill="none" />
<rect x="486.92" y="380.6" width="3.6" height="3.4" fill="#111" />
<rect x="491.82" y="381" width="2.6" height="2.6" fill="#1a0a10" />
<rect x="489.52" y="377.5" width="2.4" height="1.6" fill="#f4e8f4" />
<path d="M496.5,379.5 L496.5,376.8 L502,376.8 L502,379.5" stroke="#3a1850" stroke-width="1.4" fill="none" />
<rect x="495.2" y="380.6" width="3.6" height="3.4" fill="#111" />
<rect x="500.1" y="381" width="2.6" height="2.6" fill="#1a0a10" />
<rect x="497.8" y="377.5" width="2.4" height="1.6" fill="#f4e8f4" />
<path d="M504.78,379.5 L504.78,376.8 L510.28,376.8 L510.28,379.5" stroke="#3a1850" stroke-width="1.4" fill="none" />
<rect x="503.48" y="380.6" width="3.6" height="3.4" fill="#111" />
<rect x="508.38" y="381" width="2.6" height="2.6" fill="#1a0a10" />
<rect x="506.08" y="377.5" width="2.4" height="1.6" fill="#f4e8f4" />
<path d="M513.06,379.5 L513.06,376.8 L518.56,376.8 L518.56,379.5" stroke="#3a1850" stroke-width="1.4" fill="none" />
<rect x="511.76" y="380.6" width="3.6" height="3.4" fill="#111" />
<rect x="516.66" y="381" width="2.6" height="2.6" fill="#1a0a10" />
<rect x="514.36" y="377.5" width="2.4" height="1.6" fill="#f4e8f4" />
<path d="M521.34,379.5 L521.34,376.8 L526.84,376.8 L526.84,379.5" stroke="#3a1850" stroke-width="1.4" fill="none" />
<rect x="520.04" y="380.6" width="3.6" height="3.4" fill="#111" />
<rect x="524.94" y="381" width="2.6" height="2.6" fill="#1a0a10" />
<rect x="522.64" y="377.5" width="2.4" height="1.6" fill="#f4e8f4" />
<rect x="370" y="381.5" width="159" height="0.6" fill="#f0c0d8" />
<rect x="370" y="375.2" width="159" height="1.2" fill="#e0184a" />
<rect x="370" y="385.9" width="159" height="1.8" fill="#e0185a" />
<rect x="396.5" y="375.2" width="3" height="12" fill="#ee1a2a" />
<rect x="427.2" y="375.2" width="2.2" height="13" fill="#ee2222" />
<rect x="429.5" y="376.5" width="9" height="11" fill="#fff" />
<rect x="430.8" y="371.5" width="6.8" height="33" fill="#fbf6fb" stroke="#3a1a60" stroke-width="1.2" />
<line x1="432.3" y1="373" x2="432.3" y2="400" stroke="#8a3ab0" stroke-width="1" />
<line x1="430.8" y1="371.8" x2="437.6" y2="371.8" stroke="#111" stroke-width="1.4" />
<line x1="431.2" y1="373.3" x2="437.2" y2="373.3" stroke="#111" stroke-width="0.8" />
<rect x="431.5" y="401" width="5.5" height="3.5" fill="#999" />
<line x1="430.8" y1="401" x2="437.6" y2="401" stroke="#111" stroke-width="1" />
<rect x="434" y="389.5" width="1.2" height="1.2" fill="#111" />
<rect x="437.6" y="389.5" width="1.5" height="1" fill="#111" />
<line x1="437.6" y1="399.5" x2="439.5" y2="399.5" stroke="#111" stroke-width="0.9" />
<text x="439" y="399.7" font-size="6" fill="#dd22dd" textLength="11.9" lengthAdjust="spacingAndGlyphs" font-weight="bold" stroke="#dd22dd" stroke-width="0.2" >5kW</text>
<rect x="528.6" y="345" width="1.6" height="20" fill="#888" />
<rect x="528.6" y="365" width="1.6" height="22" fill="#ee2222" />
<rect x="515.5" y="392.5" width="1.2" height="1.2" fill="#111" />
<rect x="539.7" y="363.7" width="55" height="16" fill="none" stroke="#111" stroke-width="1.1" />
<text x="551.7" y="378.7" font-size="7.4" fill="#000" textLength="31.6" lengthAdjust="spacingAndGlyphs" font-weight="bold" stroke="#000" stroke-width="0.1" style="font-family:Liberation Mono,monospace">out table</text>
</svg></body></html>
